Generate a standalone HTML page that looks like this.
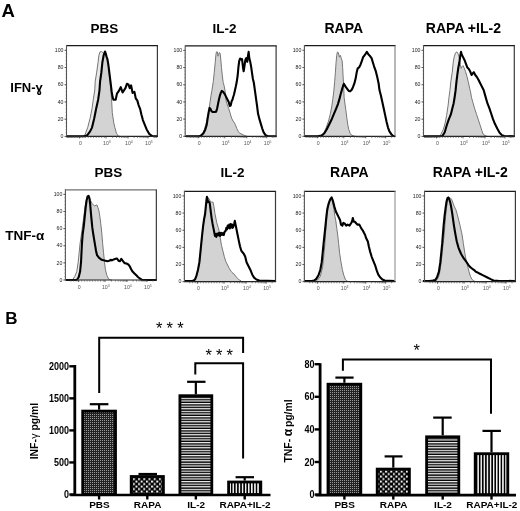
<!DOCTYPE html><html><head><meta charset="utf-8"><style>html,body{margin:0;padding:0;background:#fff;}svg{display:block;filter:blur(0.3px);}text{font-family:"Liberation Sans",sans-serif;}</style></head><body>
<svg width="520" height="511" viewBox="0 0 520 511">
<defs>
<pattern id="pd" width="2" height="2" patternUnits="userSpaceOnUse"><rect width="2" height="2" fill="#222"/><rect x="0" y="0" width="1" height="1" fill="#9a9a9a"/></pattern>
<pattern id="pc" width="5.2" height="5.0" patternUnits="userSpaceOnUse" x="0.3" y="0.6"><rect width="5.2" height="5.0" fill="#000"/><rect x="0" y="0" width="2" height="1.9" fill="#fff"/><rect x="2.6" y="2.5" width="2" height="1.9" fill="#fff"/></pattern>
<pattern id="ph" width="3" height="2.6" patternUnits="userSpaceOnUse"><rect width="3" height="2.6" fill="#000"/><rect y="0" width="3" height="1.2" fill="#f4f4f4"/></pattern>
<pattern id="pv" width="3.1" height="3" patternUnits="userSpaceOnUse"><rect width="3.1" height="3" fill="#000"/><rect x="0" width="1.5" height="3" fill="#f4f4f4"/></pattern>
</defs>
<rect width="520" height="511" fill="#fff"/>
<text x="1.5" y="17.2" font-size="18.5" font-weight="bold" text-anchor="start" >A</text>
<text x="5.3" y="323.6" font-size="17" font-weight="bold" text-anchor="start" >B</text>
<text x="104.3" y="33.2" font-size="13.5" font-weight="bold" text-anchor="middle" >PBS</text>
<text x="108.5" y="177.2" font-size="13.5" font-weight="bold" text-anchor="middle" >PBS</text>
<text x="224.6" y="33.2" font-size="13.5" font-weight="bold" text-anchor="middle" >IL-2</text>
<text x="232.4" y="177.2" font-size="13.5" font-weight="bold" text-anchor="middle" >IL-2</text>
<text x="343.8" y="33.2" font-size="14" font-weight="bold" text-anchor="middle" >RAPA</text>
<text x="349.4" y="177.2" font-size="14" font-weight="bold" text-anchor="middle" >RAPA</text>
<text x="463.4" y="33.2" font-size="14" font-weight="bold" text-anchor="middle" >RAPA +IL-2</text>
<text x="470.25" y="177.2" font-size="14" font-weight="bold" text-anchor="middle" >RAPA +IL-2</text>
<text x="10.3" y="91.9" font-size="13" font-weight="bold" text-anchor="start" >IFN-ɣ</text>
<text x="5.3" y="240" font-size="13.5" font-weight="bold" text-anchor="start" >TNF-α</text>
<clipPath id="c0"><path d="M66.50,137.40 L66.25,136.40 L84.67,136.24 L87.30,135.12 L90.11,131.36 L91.99,127.60 L94.25,118.21 L96.13,108.81 L98.19,99.42 L99.51,90.03 L100.07,81.57 L101.39,72.18 L102.32,62.79 L103.64,55.27 L104.95,51.51 L66.50,51.51 Z"/></clipPath>
<path d="M82.79,136.40 L82.79,136.24 L84.85,135.12 L87.67,127.60 L90.11,118.21 L91.99,108.81 L93.31,99.42 L94.81,90.03 L95.19,81.57 L96.69,72.18 L98.00,62.79 L98.94,55.27 L99.88,52.08 L101.39,51.51 L102.70,52.45 L103.64,53.39 L105.52,54.90 L107.40,60.53 L108.71,68.42 L109.84,79.69 L110.97,90.97 L111.72,102.24 L112.28,112.57 L113.78,122.90 L114.91,127.60 L116.41,133.24 L118.29,136.05 L120.36,136.40 L120.36,136.40 Z" fill="#d3d3d3" stroke="none"/>
<path d="M82.79,136.40 L82.79,136.24 L84.85,135.12 L87.67,127.60 L90.11,118.21 L91.99,108.81 L93.31,99.42 L94.81,90.03 L95.19,81.57 L96.69,72.18 L98.00,62.79 L98.94,55.27 L99.88,52.08 L101.39,51.51 L102.70,52.45 L103.64,53.39 L105.52,54.90 L107.40,60.53 L108.71,68.42 L109.84,79.69 L110.97,90.97 L111.72,102.24 L112.28,112.57 L113.78,122.90 L114.91,127.60 L116.41,133.24 L118.29,136.05 L120.36,136.40 L120.36,136.40 Z" fill="#e8e8e8" stroke="none" clip-path="url(#c0)"/>
<path d="M82.79,136.24 L84.85,135.12 L87.67,127.60 L90.11,118.21 L91.99,108.81 L93.31,99.42 L94.81,90.03 L95.19,81.57 L96.69,72.18 L98.00,62.79 L98.94,55.27 L99.88,52.08 L101.39,51.51 L102.70,52.45 L103.64,53.39 L105.52,54.90 L107.40,60.53 L108.71,68.42 L109.84,79.69 L110.97,90.97 L111.72,102.24 L112.28,112.57 L113.78,122.90 L114.91,127.60 L116.41,133.24 L118.29,136.05 L120.36,136.40" fill="none" stroke="#777" stroke-width="1"/>
<path d="M66.25,136.40 L84.67,136.24 L87.30,135.12 L90.11,131.36 L91.99,127.60 L94.25,118.21 L96.13,108.81 L98.19,99.42 L99.51,90.03 L100.07,81.57 L101.39,72.18 L102.32,62.79 L103.64,55.27 L104.95,51.51 L105.71,53.39 L106.46,56.21 L107.40,59.03 L108.34,64.67 L109.28,72.18 L110.22,79.69 L111.15,87.21 L111.72,91.91 L112.47,96.60 L113.41,99.80 L115.66,99.80 L116.98,93.60 L118.86,90.97 L120.74,87.21 L122.61,92.47 L125.43,88.15 L126.94,83.83 L128.44,84.39 L129.75,88.15 L131.07,85.33 L132.57,92.85 L134.45,91.91 L135.77,98.48 L137.27,100.36 L138.58,105.06 L140.09,108.81 L141.40,114.45 L142.90,120.09 L144.41,123.84 L146.66,129.48 L149.48,134.18 L152.30,136.05 L157.37,136.40" fill="none" stroke="#000" stroke-width="2.1" stroke-linejoin="round"/>
<line x1="66.5" y1="45.7" x2="158.0" y2="45.7" stroke="#1a1a1a" stroke-width="1.3"/>
<line x1="157.4" y1="45.7" x2="157.4" y2="136.4" stroke="#3a3a3a" stroke-width="1.2"/>
<line x1="66.0" y1="136.4" x2="158.0" y2="136.4" stroke="#222" stroke-width="1.2"/>
<line x1="66.5" y1="45.1" x2="66.5" y2="136.4" stroke="#555" stroke-width="1.1"/>
<line x1="64.5" y1="50.30" x2="66.5" y2="50.30" stroke="#333" stroke-width="0.8"/>
<text x="63.5" y="52.00" font-size="5.2" text-anchor="end" fill="#222">100</text>
<line x1="64.5" y1="67.52" x2="66.5" y2="67.52" stroke="#333" stroke-width="0.8"/>
<text x="63.5" y="69.22" font-size="5.2" text-anchor="end" fill="#222">80</text>
<line x1="64.5" y1="84.74" x2="66.5" y2="84.74" stroke="#333" stroke-width="0.8"/>
<text x="63.5" y="86.44" font-size="5.2" text-anchor="end" fill="#222">60</text>
<line x1="64.5" y1="101.96" x2="66.5" y2="101.96" stroke="#333" stroke-width="0.8"/>
<text x="63.5" y="103.66" font-size="5.2" text-anchor="end" fill="#222">40</text>
<line x1="64.5" y1="119.18" x2="66.5" y2="119.18" stroke="#333" stroke-width="0.8"/>
<text x="63.5" y="120.88" font-size="5.2" text-anchor="end" fill="#222">20</text>
<line x1="64.5" y1="136.40" x2="66.5" y2="136.40" stroke="#333" stroke-width="0.8"/>
<text x="63.5" y="138.10" font-size="5.2" text-anchor="end" fill="#222">0</text>
<line x1="65.5" y1="50.30" x2="66.5" y2="50.30" stroke="#666" stroke-width="0.5"/>
<line x1="65.5" y1="53.74" x2="66.5" y2="53.74" stroke="#666" stroke-width="0.5"/>
<line x1="65.5" y1="57.19" x2="66.5" y2="57.19" stroke="#666" stroke-width="0.5"/>
<line x1="65.5" y1="60.63" x2="66.5" y2="60.63" stroke="#666" stroke-width="0.5"/>
<line x1="65.5" y1="64.08" x2="66.5" y2="64.08" stroke="#666" stroke-width="0.5"/>
<line x1="65.5" y1="67.52" x2="66.5" y2="67.52" stroke="#666" stroke-width="0.5"/>
<line x1="65.5" y1="70.96" x2="66.5" y2="70.96" stroke="#666" stroke-width="0.5"/>
<line x1="65.5" y1="74.41" x2="66.5" y2="74.41" stroke="#666" stroke-width="0.5"/>
<line x1="65.5" y1="77.85" x2="66.5" y2="77.85" stroke="#666" stroke-width="0.5"/>
<line x1="65.5" y1="81.30" x2="66.5" y2="81.30" stroke="#666" stroke-width="0.5"/>
<line x1="65.5" y1="84.74" x2="66.5" y2="84.74" stroke="#666" stroke-width="0.5"/>
<line x1="65.5" y1="88.18" x2="66.5" y2="88.18" stroke="#666" stroke-width="0.5"/>
<line x1="65.5" y1="91.63" x2="66.5" y2="91.63" stroke="#666" stroke-width="0.5"/>
<line x1="65.5" y1="95.07" x2="66.5" y2="95.07" stroke="#666" stroke-width="0.5"/>
<line x1="65.5" y1="98.52" x2="66.5" y2="98.52" stroke="#666" stroke-width="0.5"/>
<line x1="65.5" y1="101.96" x2="66.5" y2="101.96" stroke="#666" stroke-width="0.5"/>
<line x1="65.5" y1="105.40" x2="66.5" y2="105.40" stroke="#666" stroke-width="0.5"/>
<line x1="65.5" y1="108.85" x2="66.5" y2="108.85" stroke="#666" stroke-width="0.5"/>
<line x1="65.5" y1="112.29" x2="66.5" y2="112.29" stroke="#666" stroke-width="0.5"/>
<line x1="65.5" y1="115.74" x2="66.5" y2="115.74" stroke="#666" stroke-width="0.5"/>
<line x1="65.5" y1="119.18" x2="66.5" y2="119.18" stroke="#666" stroke-width="0.5"/>
<line x1="65.5" y1="122.62" x2="66.5" y2="122.62" stroke="#666" stroke-width="0.5"/>
<line x1="65.5" y1="126.07" x2="66.5" y2="126.07" stroke="#666" stroke-width="0.5"/>
<line x1="65.5" y1="129.51" x2="66.5" y2="129.51" stroke="#666" stroke-width="0.5"/>
<line x1="65.5" y1="132.96" x2="66.5" y2="132.96" stroke="#666" stroke-width="0.5"/>
<line x1="71.95" y1="136.4" x2="71.95" y2="138.0" stroke="#555" stroke-width="0.7"/>
<line x1="74.65" y1="136.4" x2="74.65" y2="138.0" stroke="#555" stroke-width="0.7"/>
<line x1="77.35" y1="136.4" x2="77.35" y2="138.0" stroke="#555" stroke-width="0.7"/>
<line x1="80.05" y1="136.4" x2="80.05" y2="138.0" stroke="#555" stroke-width="0.7"/>
<line x1="82.75" y1="136.4" x2="82.75" y2="138.0" stroke="#555" stroke-width="0.7"/>
<line x1="85.45" y1="136.4" x2="85.45" y2="138.0" stroke="#555" stroke-width="0.7"/>
<line x1="88.15" y1="136.4" x2="88.15" y2="138.0" stroke="#555" stroke-width="0.7"/>
<line x1="90.85" y1="136.4" x2="90.85" y2="138.0" stroke="#555" stroke-width="0.7"/>
<line x1="93.55" y1="136.4" x2="93.55" y2="138.0" stroke="#555" stroke-width="0.7"/>
<line x1="96.25" y1="136.4" x2="96.25" y2="138.0" stroke="#555" stroke-width="0.7"/>
<line x1="98.95" y1="136.4" x2="98.95" y2="138.0" stroke="#555" stroke-width="0.7"/>
<line x1="101.65" y1="136.4" x2="101.65" y2="138.0" stroke="#555" stroke-width="0.7"/>
<line x1="104.35" y1="136.4" x2="104.35" y2="138.0" stroke="#555" stroke-width="0.7"/>
<line x1="112.66" y1="136.4" x2="112.66" y2="138.0" stroke="#555" stroke-width="0.7"/>
<line x1="116.54" y1="136.4" x2="116.54" y2="138.0" stroke="#555" stroke-width="0.7"/>
<line x1="119.29" y1="136.4" x2="119.29" y2="138.0" stroke="#555" stroke-width="0.7"/>
<line x1="121.42" y1="136.4" x2="121.42" y2="138.0" stroke="#555" stroke-width="0.7"/>
<line x1="123.16" y1="136.4" x2="123.16" y2="138.0" stroke="#555" stroke-width="0.7"/>
<line x1="124.63" y1="136.4" x2="124.63" y2="138.0" stroke="#555" stroke-width="0.7"/>
<line x1="125.91" y1="136.4" x2="125.91" y2="138.0" stroke="#555" stroke-width="0.7"/>
<line x1="127.03" y1="136.4" x2="127.03" y2="138.0" stroke="#555" stroke-width="0.7"/>
<line x1="134.06" y1="136.4" x2="134.06" y2="138.0" stroke="#555" stroke-width="0.7"/>
<line x1="137.58" y1="136.4" x2="137.58" y2="138.0" stroke="#555" stroke-width="0.7"/>
<line x1="140.08" y1="136.4" x2="140.08" y2="138.0" stroke="#555" stroke-width="0.7"/>
<line x1="142.02" y1="136.4" x2="142.02" y2="138.0" stroke="#555" stroke-width="0.7"/>
<line x1="143.60" y1="136.4" x2="143.60" y2="138.0" stroke="#555" stroke-width="0.7"/>
<line x1="144.94" y1="136.4" x2="144.94" y2="138.0" stroke="#555" stroke-width="0.7"/>
<line x1="146.10" y1="136.4" x2="146.10" y2="138.0" stroke="#555" stroke-width="0.7"/>
<line x1="147.12" y1="136.4" x2="147.12" y2="138.0" stroke="#555" stroke-width="0.7"/>
<line x1="154.06" y1="136.4" x2="154.06" y2="138.0" stroke="#555" stroke-width="0.7"/>
<line x1="79.50" y1="136.4" x2="79.50" y2="138.4" stroke="#333" stroke-width="0.8"/>
<text x="80.40" y="145.00" font-size="5.2" text-anchor="middle" fill="#555">0</text>
<line x1="106.04" y1="136.4" x2="106.04" y2="138.4" stroke="#333" stroke-width="0.8"/>
<text x="106.94" y="145.00" font-size="5.2" text-anchor="middle" fill="#555">10<tspan font-size='3.5' dy='-2'>3</tspan></text>
<line x1="128.04" y1="136.4" x2="128.04" y2="138.4" stroke="#333" stroke-width="0.8"/>
<text x="128.94" y="145.00" font-size="5.2" text-anchor="middle" fill="#555">10<tspan font-size='3.5' dy='-2'>4</tspan></text>
<line x1="148.04" y1="136.4" x2="148.04" y2="138.4" stroke="#333" stroke-width="0.8"/>
<text x="148.94" y="145.00" font-size="5.2" text-anchor="middle" fill="#555">10<tspan font-size='3.5' dy='-2'>5</tspan></text>
<clipPath id="c1"><path d="M185.20,137.30 L185.88,136.30 L199.03,136.24 L200.63,135.87 L203.44,133.24 L205.32,129.48 L206.73,124.78 L207.67,118.21 L208.61,112.57 L209.55,107.87 L185.20,107.87 Z"/></clipPath>
<path d="M200.53,136.30 L200.53,136.24 L202.50,134.18 L204.38,129.48 L206.26,122.90 L207.67,116.33 L209.08,108.81 L210.02,102.24 L210.96,95.66 L211.90,90.59 L213.31,81.57 L214.25,72.18 L215.19,62.79 L215.84,55.27 L216.41,51.89 L217.35,51.89 L218.00,56.21 L218.66,54.33 L219.41,52.45 L220.16,53.39 L220.82,59.97 L221.48,67.48 L222.23,75.00 L223.17,82.51 L224.11,85.71 L225.05,90.97 L225.52,95.66 L225.99,100.36 L227.40,105.06 L228.81,108.81 L230.22,113.51 L231.62,118.21 L233.03,121.03 L234.44,122.90 L235.38,124.78 L236.79,128.54 L238.20,131.36 L239.61,133.24 L242.05,134.18 L244.40,135.49 L246.75,136.24 L246.75,136.30 Z" fill="#d3d3d3" stroke="none"/>
<path d="M200.53,136.24 L202.50,134.18 L204.38,129.48 L206.26,122.90 L207.67,116.33 L209.08,108.81 L210.02,102.24 L210.96,95.66 L211.90,90.59 L213.31,81.57 L214.25,72.18 L215.19,62.79 L215.84,55.27 L216.41,51.89 L217.35,51.89 L218.00,56.21 L218.66,54.33 L219.41,52.45 L220.16,53.39 L220.82,59.97 L221.48,67.48 L222.23,75.00 L223.17,82.51 L224.11,85.71 L225.05,90.97 L225.52,95.66 L225.99,100.36 L227.40,105.06 L228.81,108.81 L230.22,113.51 L231.62,118.21 L233.03,121.03 L234.44,122.90 L235.38,124.78 L236.79,128.54 L238.20,131.36 L239.61,133.24 L242.05,134.18 L244.40,135.49 L246.75,136.24" fill="none" stroke="#777" stroke-width="1"/>
<path d="M185.88,136.30 L199.03,136.24 L200.63,135.87 L203.44,133.24 L205.32,129.48 L206.73,124.78 L207.67,118.21 L208.61,112.57 L209.55,107.87 L210.49,108.81 L211.43,111.07 L212.84,112.01 L214.72,112.01 L216.13,111.63 L217.06,108.81 L218.00,104.12 L218.94,99.42 L219.88,95.66 L220.82,92.85 L221.76,90.97 L223.17,91.91 L224.58,93.78 L225.99,96.60 L227.40,99.42 L228.81,102.24 L229.75,106.00 L230.68,105.43 L231.62,101.30 L232.56,99.42 L233.03,97.54 L233.97,94.72 L235.01,90.03 L235.85,86.27 L236.79,81.57 L237.73,75.00 L238.39,67.48 L239.23,60.91 L240.17,58.47 L241.11,59.41 L242.05,59.03 L242.99,67.48 L243.65,71.24 L244.40,66.54 L245.34,59.97 L246.28,58.09 L247.22,61.85 L247.97,56.21 L248.63,51.89 L249.28,58.09 L250.04,60.91 L250.97,65.60 L251.91,72.18 L252.85,78.76 L253.79,82.51 L254.73,89.09 L256.14,99.42 L257.08,106.00 L258.02,113.51 L259.43,119.15 L260.84,123.84 L262.25,128.54 L263.66,132.30 L265.53,135.12 L267.41,136.05 L276.43,136.24" fill="none" stroke="#000" stroke-width="2.1" stroke-linejoin="round"/>
<line x1="185.2" y1="45.8" x2="276.70000000000005" y2="45.8" stroke="#1a1a1a" stroke-width="1.3"/>
<line x1="276.1" y1="45.8" x2="276.1" y2="136.3" stroke="#3a3a3a" stroke-width="1.2"/>
<line x1="184.7" y1="136.3" x2="276.70000000000005" y2="136.3" stroke="#222" stroke-width="1.2"/>
<line x1="185.2" y1="45.199999999999996" x2="185.2" y2="136.3" stroke="#555" stroke-width="1.1"/>
<line x1="183.2" y1="50.40" x2="185.2" y2="50.40" stroke="#333" stroke-width="0.8"/>
<text x="182.2" y="52.10" font-size="5.2" text-anchor="end" fill="#222">100</text>
<line x1="183.2" y1="67.58" x2="185.2" y2="67.58" stroke="#333" stroke-width="0.8"/>
<text x="182.2" y="69.28" font-size="5.2" text-anchor="end" fill="#222">80</text>
<line x1="183.2" y1="84.76" x2="185.2" y2="84.76" stroke="#333" stroke-width="0.8"/>
<text x="182.2" y="86.46" font-size="5.2" text-anchor="end" fill="#222">60</text>
<line x1="183.2" y1="101.94" x2="185.2" y2="101.94" stroke="#333" stroke-width="0.8"/>
<text x="182.2" y="103.64" font-size="5.2" text-anchor="end" fill="#222">40</text>
<line x1="183.2" y1="119.12" x2="185.2" y2="119.12" stroke="#333" stroke-width="0.8"/>
<text x="182.2" y="120.82" font-size="5.2" text-anchor="end" fill="#222">20</text>
<line x1="183.2" y1="136.30" x2="185.2" y2="136.30" stroke="#333" stroke-width="0.8"/>
<text x="182.2" y="138.00" font-size="5.2" text-anchor="end" fill="#222">0</text>
<line x1="184.2" y1="50.40" x2="185.2" y2="50.40" stroke="#666" stroke-width="0.5"/>
<line x1="184.2" y1="53.84" x2="185.2" y2="53.84" stroke="#666" stroke-width="0.5"/>
<line x1="184.2" y1="57.27" x2="185.2" y2="57.27" stroke="#666" stroke-width="0.5"/>
<line x1="184.2" y1="60.71" x2="185.2" y2="60.71" stroke="#666" stroke-width="0.5"/>
<line x1="184.2" y1="64.14" x2="185.2" y2="64.14" stroke="#666" stroke-width="0.5"/>
<line x1="184.2" y1="67.58" x2="185.2" y2="67.58" stroke="#666" stroke-width="0.5"/>
<line x1="184.2" y1="71.02" x2="185.2" y2="71.02" stroke="#666" stroke-width="0.5"/>
<line x1="184.2" y1="74.45" x2="185.2" y2="74.45" stroke="#666" stroke-width="0.5"/>
<line x1="184.2" y1="77.89" x2="185.2" y2="77.89" stroke="#666" stroke-width="0.5"/>
<line x1="184.2" y1="81.32" x2="185.2" y2="81.32" stroke="#666" stroke-width="0.5"/>
<line x1="184.2" y1="84.76" x2="185.2" y2="84.76" stroke="#666" stroke-width="0.5"/>
<line x1="184.2" y1="88.20" x2="185.2" y2="88.20" stroke="#666" stroke-width="0.5"/>
<line x1="184.2" y1="91.63" x2="185.2" y2="91.63" stroke="#666" stroke-width="0.5"/>
<line x1="184.2" y1="95.07" x2="185.2" y2="95.07" stroke="#666" stroke-width="0.5"/>
<line x1="184.2" y1="98.50" x2="185.2" y2="98.50" stroke="#666" stroke-width="0.5"/>
<line x1="184.2" y1="101.94" x2="185.2" y2="101.94" stroke="#666" stroke-width="0.5"/>
<line x1="184.2" y1="105.38" x2="185.2" y2="105.38" stroke="#666" stroke-width="0.5"/>
<line x1="184.2" y1="108.81" x2="185.2" y2="108.81" stroke="#666" stroke-width="0.5"/>
<line x1="184.2" y1="112.25" x2="185.2" y2="112.25" stroke="#666" stroke-width="0.5"/>
<line x1="184.2" y1="115.68" x2="185.2" y2="115.68" stroke="#666" stroke-width="0.5"/>
<line x1="184.2" y1="119.12" x2="185.2" y2="119.12" stroke="#666" stroke-width="0.5"/>
<line x1="184.2" y1="122.56" x2="185.2" y2="122.56" stroke="#666" stroke-width="0.5"/>
<line x1="184.2" y1="125.99" x2="185.2" y2="125.99" stroke="#666" stroke-width="0.5"/>
<line x1="184.2" y1="129.43" x2="185.2" y2="129.43" stroke="#666" stroke-width="0.5"/>
<line x1="184.2" y1="132.86" x2="185.2" y2="132.86" stroke="#666" stroke-width="0.5"/>
<line x1="190.65" y1="136.3" x2="190.65" y2="137.9" stroke="#555" stroke-width="0.7"/>
<line x1="193.35" y1="136.3" x2="193.35" y2="137.9" stroke="#555" stroke-width="0.7"/>
<line x1="196.05" y1="136.3" x2="196.05" y2="137.9" stroke="#555" stroke-width="0.7"/>
<line x1="198.75" y1="136.3" x2="198.75" y2="137.9" stroke="#555" stroke-width="0.7"/>
<line x1="201.45" y1="136.3" x2="201.45" y2="137.9" stroke="#555" stroke-width="0.7"/>
<line x1="204.15" y1="136.3" x2="204.15" y2="137.9" stroke="#555" stroke-width="0.7"/>
<line x1="206.85" y1="136.3" x2="206.85" y2="137.9" stroke="#555" stroke-width="0.7"/>
<line x1="209.55" y1="136.3" x2="209.55" y2="137.9" stroke="#555" stroke-width="0.7"/>
<line x1="212.25" y1="136.3" x2="212.25" y2="137.9" stroke="#555" stroke-width="0.7"/>
<line x1="214.95" y1="136.3" x2="214.95" y2="137.9" stroke="#555" stroke-width="0.7"/>
<line x1="217.65" y1="136.3" x2="217.65" y2="137.9" stroke="#555" stroke-width="0.7"/>
<line x1="220.35" y1="136.3" x2="220.35" y2="137.9" stroke="#555" stroke-width="0.7"/>
<line x1="223.05" y1="136.3" x2="223.05" y2="137.9" stroke="#555" stroke-width="0.7"/>
<line x1="231.36" y1="136.3" x2="231.36" y2="137.9" stroke="#555" stroke-width="0.7"/>
<line x1="235.24" y1="136.3" x2="235.24" y2="137.9" stroke="#555" stroke-width="0.7"/>
<line x1="237.99" y1="136.3" x2="237.99" y2="137.9" stroke="#555" stroke-width="0.7"/>
<line x1="240.12" y1="136.3" x2="240.12" y2="137.9" stroke="#555" stroke-width="0.7"/>
<line x1="241.86" y1="136.3" x2="241.86" y2="137.9" stroke="#555" stroke-width="0.7"/>
<line x1="243.33" y1="136.3" x2="243.33" y2="137.9" stroke="#555" stroke-width="0.7"/>
<line x1="244.61" y1="136.3" x2="244.61" y2="137.9" stroke="#555" stroke-width="0.7"/>
<line x1="245.73" y1="136.3" x2="245.73" y2="137.9" stroke="#555" stroke-width="0.7"/>
<line x1="252.76" y1="136.3" x2="252.76" y2="137.9" stroke="#555" stroke-width="0.7"/>
<line x1="256.28" y1="136.3" x2="256.28" y2="137.9" stroke="#555" stroke-width="0.7"/>
<line x1="258.78" y1="136.3" x2="258.78" y2="137.9" stroke="#555" stroke-width="0.7"/>
<line x1="260.72" y1="136.3" x2="260.72" y2="137.9" stroke="#555" stroke-width="0.7"/>
<line x1="262.30" y1="136.3" x2="262.30" y2="137.9" stroke="#555" stroke-width="0.7"/>
<line x1="263.64" y1="136.3" x2="263.64" y2="137.9" stroke="#555" stroke-width="0.7"/>
<line x1="264.80" y1="136.3" x2="264.80" y2="137.9" stroke="#555" stroke-width="0.7"/>
<line x1="265.82" y1="136.3" x2="265.82" y2="137.9" stroke="#555" stroke-width="0.7"/>
<line x1="272.76" y1="136.3" x2="272.76" y2="137.9" stroke="#555" stroke-width="0.7"/>
<line x1="198.20" y1="136.3" x2="198.20" y2="138.3" stroke="#333" stroke-width="0.8"/>
<text x="199.10" y="144.90" font-size="5.2" text-anchor="middle" fill="#555">0</text>
<line x1="224.74" y1="136.3" x2="224.74" y2="138.3" stroke="#333" stroke-width="0.8"/>
<text x="225.64" y="144.90" font-size="5.2" text-anchor="middle" fill="#555">10<tspan font-size='3.5' dy='-2'>3</tspan></text>
<line x1="246.74" y1="136.3" x2="246.74" y2="138.3" stroke="#333" stroke-width="0.8"/>
<text x="247.64" y="144.90" font-size="5.2" text-anchor="middle" fill="#555">10<tspan font-size='3.5' dy='-2'>4</tspan></text>
<line x1="266.74" y1="136.3" x2="266.74" y2="138.3" stroke="#333" stroke-width="0.8"/>
<text x="267.64" y="144.90" font-size="5.2" text-anchor="middle" fill="#555">10<tspan font-size='3.5' dy='-2'>5</tspan></text>
<clipPath id="c2"><path d="M304.40,137.30 L304.88,136.30 L317.75,136.30 L321.50,135.59 L324.32,133.24 L326.67,129.48 L329.02,124.78 L331.37,120.09 L333.72,114.45 L336.06,108.81 L337.94,104.12 L339.35,99.42 L340.76,93.78 L341.32,91.91 L342.17,88.71 L343.11,85.71 L343.86,83.83 L304.40,83.83 Z"/></clipPath>
<path d="M321.41,136.30 L321.41,136.30 L323.38,134.18 L326.20,127.60 L328.55,121.03 L330.43,113.51 L331.84,106.00 L332.78,99.42 L333.72,91.91 L334.66,81.57 L335.41,72.18 L336.06,62.79 L336.72,55.27 L337.47,51.89 L338.41,52.83 L339.35,57.15 L340.29,55.27 L341.23,58.09 L342.17,60.91 L342.64,67.48 L343.11,76.88 L343.58,84.39 L343.86,90.97 L344.14,97.54 L344.99,104.12 L345.93,110.69 L346.87,118.21 L347.81,124.78 L348.75,129.48 L350.15,133.24 L351.56,135.12 L353.72,136.05 L355.60,136.30 L355.60,136.30 Z" fill="#d3d3d3" stroke="none"/>
<path d="M321.41,136.30 L323.38,134.18 L326.20,127.60 L328.55,121.03 L330.43,113.51 L331.84,106.00 L332.78,99.42 L333.72,91.91 L334.66,81.57 L335.41,72.18 L336.06,62.79 L336.72,55.27 L337.47,51.89 L338.41,52.83 L339.35,57.15 L340.29,55.27 L341.23,58.09 L342.17,60.91 L342.64,67.48 L343.11,76.88 L343.58,84.39 L343.86,90.97 L344.14,97.54 L344.99,104.12 L345.93,110.69 L346.87,118.21 L347.81,124.78 L348.75,129.48 L350.15,133.24 L351.56,135.12 L353.72,136.05 L355.60,136.30" fill="none" stroke="#777" stroke-width="1"/>
<path d="M304.88,136.30 L317.75,136.30 L321.50,135.59 L324.32,133.24 L326.67,129.48 L329.02,124.78 L331.37,120.09 L333.72,114.45 L336.06,108.81 L337.94,104.12 L339.35,99.42 L340.76,93.78 L341.32,91.91 L342.17,88.71 L343.11,85.71 L343.86,83.83 L344.80,85.33 L345.93,87.21 L347.34,89.09 L348.75,90.97 L350.15,91.34 L351.56,90.03 L352.97,87.21 L354.38,83.45 L355.79,77.82 L356.73,72.18 L357.67,68.42 L359.08,67.48 L360.49,64.67 L361.71,61.28 L363.12,57.15 L364.53,55.27 L365.94,53.39 L366.87,51.89 L368.28,54.33 L369.69,55.65 L371.57,58.09 L372.98,62.79 L374.39,67.48 L375.80,71.24 L377.21,76.88 L378.62,83.45 L379.46,90.03 L380.96,95.66 L382.37,102.24 L383.78,108.81 L385.19,115.39 L386.60,121.96 L388.01,127.60 L389.42,131.36 L391.30,134.18 L393.18,136.05 L395.05,136.30" fill="none" stroke="#000" stroke-width="2.1" stroke-linejoin="round"/>
<line x1="304.4" y1="45.7" x2="395.6" y2="45.7" stroke="#1a1a1a" stroke-width="1.3"/>
<line x1="395.0" y1="45.7" x2="395.0" y2="136.3" stroke="#888" stroke-width="1.2"/>
<line x1="303.9" y1="136.3" x2="395.6" y2="136.3" stroke="#222" stroke-width="1.2"/>
<line x1="304.4" y1="45.1" x2="304.4" y2="136.3" stroke="#555" stroke-width="1.1"/>
<line x1="302.4" y1="50.30" x2="304.4" y2="50.30" stroke="#333" stroke-width="0.8"/>
<text x="301.4" y="52.00" font-size="5.2" text-anchor="end" fill="#222">100</text>
<line x1="302.4" y1="67.50" x2="304.4" y2="67.50" stroke="#333" stroke-width="0.8"/>
<text x="301.4" y="69.20" font-size="5.2" text-anchor="end" fill="#222">80</text>
<line x1="302.4" y1="84.70" x2="304.4" y2="84.70" stroke="#333" stroke-width="0.8"/>
<text x="301.4" y="86.40" font-size="5.2" text-anchor="end" fill="#222">60</text>
<line x1="302.4" y1="101.90" x2="304.4" y2="101.90" stroke="#333" stroke-width="0.8"/>
<text x="301.4" y="103.60" font-size="5.2" text-anchor="end" fill="#222">40</text>
<line x1="302.4" y1="119.10" x2="304.4" y2="119.10" stroke="#333" stroke-width="0.8"/>
<text x="301.4" y="120.80" font-size="5.2" text-anchor="end" fill="#222">20</text>
<line x1="302.4" y1="136.30" x2="304.4" y2="136.30" stroke="#333" stroke-width="0.8"/>
<text x="301.4" y="138.00" font-size="5.2" text-anchor="end" fill="#222">0</text>
<line x1="303.4" y1="50.30" x2="304.4" y2="50.30" stroke="#666" stroke-width="0.5"/>
<line x1="303.4" y1="53.74" x2="304.4" y2="53.74" stroke="#666" stroke-width="0.5"/>
<line x1="303.4" y1="57.18" x2="304.4" y2="57.18" stroke="#666" stroke-width="0.5"/>
<line x1="303.4" y1="60.62" x2="304.4" y2="60.62" stroke="#666" stroke-width="0.5"/>
<line x1="303.4" y1="64.06" x2="304.4" y2="64.06" stroke="#666" stroke-width="0.5"/>
<line x1="303.4" y1="67.50" x2="304.4" y2="67.50" stroke="#666" stroke-width="0.5"/>
<line x1="303.4" y1="70.94" x2="304.4" y2="70.94" stroke="#666" stroke-width="0.5"/>
<line x1="303.4" y1="74.38" x2="304.4" y2="74.38" stroke="#666" stroke-width="0.5"/>
<line x1="303.4" y1="77.82" x2="304.4" y2="77.82" stroke="#666" stroke-width="0.5"/>
<line x1="303.4" y1="81.26" x2="304.4" y2="81.26" stroke="#666" stroke-width="0.5"/>
<line x1="303.4" y1="84.70" x2="304.4" y2="84.70" stroke="#666" stroke-width="0.5"/>
<line x1="303.4" y1="88.14" x2="304.4" y2="88.14" stroke="#666" stroke-width="0.5"/>
<line x1="303.4" y1="91.58" x2="304.4" y2="91.58" stroke="#666" stroke-width="0.5"/>
<line x1="303.4" y1="95.02" x2="304.4" y2="95.02" stroke="#666" stroke-width="0.5"/>
<line x1="303.4" y1="98.46" x2="304.4" y2="98.46" stroke="#666" stroke-width="0.5"/>
<line x1="303.4" y1="101.90" x2="304.4" y2="101.90" stroke="#666" stroke-width="0.5"/>
<line x1="303.4" y1="105.34" x2="304.4" y2="105.34" stroke="#666" stroke-width="0.5"/>
<line x1="303.4" y1="108.78" x2="304.4" y2="108.78" stroke="#666" stroke-width="0.5"/>
<line x1="303.4" y1="112.22" x2="304.4" y2="112.22" stroke="#666" stroke-width="0.5"/>
<line x1="303.4" y1="115.66" x2="304.4" y2="115.66" stroke="#666" stroke-width="0.5"/>
<line x1="303.4" y1="119.10" x2="304.4" y2="119.10" stroke="#666" stroke-width="0.5"/>
<line x1="303.4" y1="122.54" x2="304.4" y2="122.54" stroke="#666" stroke-width="0.5"/>
<line x1="303.4" y1="125.98" x2="304.4" y2="125.98" stroke="#666" stroke-width="0.5"/>
<line x1="303.4" y1="129.42" x2="304.4" y2="129.42" stroke="#666" stroke-width="0.5"/>
<line x1="303.4" y1="132.86" x2="304.4" y2="132.86" stroke="#666" stroke-width="0.5"/>
<line x1="309.84" y1="136.3" x2="309.84" y2="137.9" stroke="#555" stroke-width="0.7"/>
<line x1="312.54" y1="136.3" x2="312.54" y2="137.9" stroke="#555" stroke-width="0.7"/>
<line x1="315.24" y1="136.3" x2="315.24" y2="137.9" stroke="#555" stroke-width="0.7"/>
<line x1="317.94" y1="136.3" x2="317.94" y2="137.9" stroke="#555" stroke-width="0.7"/>
<line x1="320.64" y1="136.3" x2="320.64" y2="137.9" stroke="#555" stroke-width="0.7"/>
<line x1="323.34" y1="136.3" x2="323.34" y2="137.9" stroke="#555" stroke-width="0.7"/>
<line x1="326.04" y1="136.3" x2="326.04" y2="137.9" stroke="#555" stroke-width="0.7"/>
<line x1="328.74" y1="136.3" x2="328.74" y2="137.9" stroke="#555" stroke-width="0.7"/>
<line x1="331.44" y1="136.3" x2="331.44" y2="137.9" stroke="#555" stroke-width="0.7"/>
<line x1="334.14" y1="136.3" x2="334.14" y2="137.9" stroke="#555" stroke-width="0.7"/>
<line x1="336.84" y1="136.3" x2="336.84" y2="137.9" stroke="#555" stroke-width="0.7"/>
<line x1="339.54" y1="136.3" x2="339.54" y2="137.9" stroke="#555" stroke-width="0.7"/>
<line x1="342.24" y1="136.3" x2="342.24" y2="137.9" stroke="#555" stroke-width="0.7"/>
<line x1="350.41" y1="136.3" x2="350.41" y2="137.9" stroke="#555" stroke-width="0.7"/>
<line x1="354.27" y1="136.3" x2="354.27" y2="137.9" stroke="#555" stroke-width="0.7"/>
<line x1="357.01" y1="136.3" x2="357.01" y2="137.9" stroke="#555" stroke-width="0.7"/>
<line x1="359.14" y1="136.3" x2="359.14" y2="137.9" stroke="#555" stroke-width="0.7"/>
<line x1="360.87" y1="136.3" x2="360.87" y2="137.9" stroke="#555" stroke-width="0.7"/>
<line x1="362.34" y1="136.3" x2="362.34" y2="137.9" stroke="#555" stroke-width="0.7"/>
<line x1="363.61" y1="136.3" x2="363.61" y2="137.9" stroke="#555" stroke-width="0.7"/>
<line x1="364.73" y1="136.3" x2="364.73" y2="137.9" stroke="#555" stroke-width="0.7"/>
<line x1="371.74" y1="136.3" x2="371.74" y2="137.9" stroke="#555" stroke-width="0.7"/>
<line x1="375.25" y1="136.3" x2="375.25" y2="137.9" stroke="#555" stroke-width="0.7"/>
<line x1="377.74" y1="136.3" x2="377.74" y2="137.9" stroke="#555" stroke-width="0.7"/>
<line x1="379.67" y1="136.3" x2="379.67" y2="137.9" stroke="#555" stroke-width="0.7"/>
<line x1="381.25" y1="136.3" x2="381.25" y2="137.9" stroke="#555" stroke-width="0.7"/>
<line x1="382.58" y1="136.3" x2="382.58" y2="137.9" stroke="#555" stroke-width="0.7"/>
<line x1="383.74" y1="136.3" x2="383.74" y2="137.9" stroke="#555" stroke-width="0.7"/>
<line x1="384.76" y1="136.3" x2="384.76" y2="137.9" stroke="#555" stroke-width="0.7"/>
<line x1="391.67" y1="136.3" x2="391.67" y2="137.9" stroke="#555" stroke-width="0.7"/>
<line x1="317.36" y1="136.3" x2="317.36" y2="138.3" stroke="#333" stroke-width="0.8"/>
<text x="318.26" y="144.90" font-size="5.2" text-anchor="middle" fill="#555">0</text>
<line x1="343.81" y1="136.3" x2="343.81" y2="138.3" stroke="#333" stroke-width="0.8"/>
<text x="344.71" y="144.90" font-size="5.2" text-anchor="middle" fill="#555">10<tspan font-size='3.5' dy='-2'>3</tspan></text>
<line x1="365.74" y1="136.3" x2="365.74" y2="138.3" stroke="#333" stroke-width="0.8"/>
<text x="366.64" y="144.90" font-size="5.2" text-anchor="middle" fill="#555">10<tspan font-size='3.5' dy='-2'>4</tspan></text>
<line x1="385.67" y1="136.3" x2="385.67" y2="138.3" stroke="#333" stroke-width="0.8"/>
<text x="386.57" y="144.90" font-size="5.2" text-anchor="middle" fill="#555">10<tspan font-size='3.5' dy='-2'>5</tspan></text>
<clipPath id="c3"><path d="M423.50,137.40 L423.88,136.40 L438.91,136.24 L442.38,136.05 L444.73,132.30 L446.61,125.72 L448.49,120.09 L450.84,114.45 L452.25,108.81 L453.66,103.18 L454.59,97.54 L455.53,90.97 L456.47,81.57 L457.41,74.06 L458.35,67.48 L459.29,62.79 L460.23,56.21 L460.98,51.89 L423.50,51.89 Z"/></clipPath>
<path d="M439.85,136.40 L439.85,136.40 L440.97,134.18 L443.32,129.48 L445.20,122.90 L446.61,115.39 L448.02,106.00 L448.96,97.54 L449.90,90.59 L450.84,81.57 L452.25,72.18 L453.19,62.79 L454.13,57.15 L455.53,52.83 L456.94,51.89 L457.88,53.39 L458.82,56.21 L459.57,59.97 L460.32,64.67 L461.17,68.42 L462.11,66.54 L463.05,65.60 L463.99,67.48 L465.40,71.24 L466.81,75.94 L468.22,81.57 L469.62,88.15 L470.56,91.91 L471.50,97.54 L472.82,102.24 L474.70,108.81 L476.58,114.45 L478.45,120.09 L480.33,125.72 L481.74,130.42 L483.15,134.18 L485.03,135.49 L486.81,136.24 L486.81,136.40 Z" fill="#d3d3d3" stroke="none"/>
<path d="M439.85,136.40 L439.85,136.40 L440.97,134.18 L443.32,129.48 L445.20,122.90 L446.61,115.39 L448.02,106.00 L448.96,97.54 L449.90,90.59 L450.84,81.57 L452.25,72.18 L453.19,62.79 L454.13,57.15 L455.53,52.83 L456.94,51.89 L457.88,53.39 L458.82,56.21 L459.57,59.97 L460.32,64.67 L461.17,68.42 L462.11,66.54 L463.05,65.60 L463.99,67.48 L465.40,71.24 L466.81,75.94 L468.22,81.57 L469.62,88.15 L470.56,91.91 L471.50,97.54 L472.82,102.24 L474.70,108.81 L476.58,114.45 L478.45,120.09 L480.33,125.72 L481.74,130.42 L483.15,134.18 L485.03,135.49 L486.81,136.24 L486.81,136.40 Z" fill="#e8e8e8" stroke="none" clip-path="url(#c3)"/>
<path d="M439.85,136.40 L440.97,134.18 L443.32,129.48 L445.20,122.90 L446.61,115.39 L448.02,106.00 L448.96,97.54 L449.90,90.59 L450.84,81.57 L452.25,72.18 L453.19,62.79 L454.13,57.15 L455.53,52.83 L456.94,51.89 L457.88,53.39 L458.82,56.21 L459.57,59.97 L460.32,64.67 L461.17,68.42 L462.11,66.54 L463.05,65.60 L463.99,67.48 L465.40,71.24 L466.81,75.94 L468.22,81.57 L469.62,88.15 L470.56,91.91 L471.50,97.54 L472.82,102.24 L474.70,108.81 L476.58,114.45 L478.45,120.09 L480.33,125.72 L481.74,130.42 L483.15,134.18 L485.03,135.49 L486.81,136.24" fill="none" stroke="#777" stroke-width="1"/>
<path d="M423.88,136.40 L438.91,136.24 L442.38,136.05 L444.73,132.30 L446.61,125.72 L448.49,120.09 L450.84,114.45 L452.25,108.81 L453.66,103.18 L454.59,97.54 L455.53,90.97 L456.47,81.57 L457.41,74.06 L458.35,67.48 L459.29,62.79 L460.23,56.21 L460.98,51.89 L461.64,54.33 L463.05,57.15 L464.46,59.97 L465.87,63.73 L467.28,67.48 L468.68,68.80 L470.09,71.24 L471.50,75.00 L472.91,73.12 L473.85,72.18 L475.26,75.00 L477.14,77.44 L478.45,79.69 L480.33,83.45 L482.21,87.21 L483.62,90.03 L485.50,96.60 L487.38,103.18 L489.26,107.87 L491.14,113.51 L493.01,119.15 L494.89,123.84 L497.24,128.54 L499.59,132.67 L501.94,135.12 L504.29,136.05 L514.43,136.24" fill="none" stroke="#000" stroke-width="2.1" stroke-linejoin="round"/>
<line x1="423.5" y1="45.7" x2="514.9" y2="45.7" stroke="#1a1a1a" stroke-width="1.3"/>
<line x1="514.3" y1="45.7" x2="514.3" y2="136.4" stroke="#3a3a3a" stroke-width="1.2"/>
<line x1="423.0" y1="136.4" x2="514.9" y2="136.4" stroke="#222" stroke-width="1.2"/>
<line x1="423.5" y1="45.1" x2="423.5" y2="136.4" stroke="#555" stroke-width="1.1"/>
<line x1="421.5" y1="50.30" x2="423.5" y2="50.30" stroke="#333" stroke-width="0.8"/>
<text x="420.5" y="52.00" font-size="5.2" text-anchor="end" fill="#222">100</text>
<line x1="421.5" y1="67.52" x2="423.5" y2="67.52" stroke="#333" stroke-width="0.8"/>
<text x="420.5" y="69.22" font-size="5.2" text-anchor="end" fill="#222">80</text>
<line x1="421.5" y1="84.74" x2="423.5" y2="84.74" stroke="#333" stroke-width="0.8"/>
<text x="420.5" y="86.44" font-size="5.2" text-anchor="end" fill="#222">60</text>
<line x1="421.5" y1="101.96" x2="423.5" y2="101.96" stroke="#333" stroke-width="0.8"/>
<text x="420.5" y="103.66" font-size="5.2" text-anchor="end" fill="#222">40</text>
<line x1="421.5" y1="119.18" x2="423.5" y2="119.18" stroke="#333" stroke-width="0.8"/>
<text x="420.5" y="120.88" font-size="5.2" text-anchor="end" fill="#222">20</text>
<line x1="421.5" y1="136.40" x2="423.5" y2="136.40" stroke="#333" stroke-width="0.8"/>
<text x="420.5" y="138.10" font-size="5.2" text-anchor="end" fill="#222">0</text>
<line x1="422.5" y1="50.30" x2="423.5" y2="50.30" stroke="#666" stroke-width="0.5"/>
<line x1="422.5" y1="53.74" x2="423.5" y2="53.74" stroke="#666" stroke-width="0.5"/>
<line x1="422.5" y1="57.19" x2="423.5" y2="57.19" stroke="#666" stroke-width="0.5"/>
<line x1="422.5" y1="60.63" x2="423.5" y2="60.63" stroke="#666" stroke-width="0.5"/>
<line x1="422.5" y1="64.08" x2="423.5" y2="64.08" stroke="#666" stroke-width="0.5"/>
<line x1="422.5" y1="67.52" x2="423.5" y2="67.52" stroke="#666" stroke-width="0.5"/>
<line x1="422.5" y1="70.96" x2="423.5" y2="70.96" stroke="#666" stroke-width="0.5"/>
<line x1="422.5" y1="74.41" x2="423.5" y2="74.41" stroke="#666" stroke-width="0.5"/>
<line x1="422.5" y1="77.85" x2="423.5" y2="77.85" stroke="#666" stroke-width="0.5"/>
<line x1="422.5" y1="81.30" x2="423.5" y2="81.30" stroke="#666" stroke-width="0.5"/>
<line x1="422.5" y1="84.74" x2="423.5" y2="84.74" stroke="#666" stroke-width="0.5"/>
<line x1="422.5" y1="88.18" x2="423.5" y2="88.18" stroke="#666" stroke-width="0.5"/>
<line x1="422.5" y1="91.63" x2="423.5" y2="91.63" stroke="#666" stroke-width="0.5"/>
<line x1="422.5" y1="95.07" x2="423.5" y2="95.07" stroke="#666" stroke-width="0.5"/>
<line x1="422.5" y1="98.52" x2="423.5" y2="98.52" stroke="#666" stroke-width="0.5"/>
<line x1="422.5" y1="101.96" x2="423.5" y2="101.96" stroke="#666" stroke-width="0.5"/>
<line x1="422.5" y1="105.40" x2="423.5" y2="105.40" stroke="#666" stroke-width="0.5"/>
<line x1="422.5" y1="108.85" x2="423.5" y2="108.85" stroke="#666" stroke-width="0.5"/>
<line x1="422.5" y1="112.29" x2="423.5" y2="112.29" stroke="#666" stroke-width="0.5"/>
<line x1="422.5" y1="115.74" x2="423.5" y2="115.74" stroke="#666" stroke-width="0.5"/>
<line x1="422.5" y1="119.18" x2="423.5" y2="119.18" stroke="#666" stroke-width="0.5"/>
<line x1="422.5" y1="122.62" x2="423.5" y2="122.62" stroke="#666" stroke-width="0.5"/>
<line x1="422.5" y1="126.07" x2="423.5" y2="126.07" stroke="#666" stroke-width="0.5"/>
<line x1="422.5" y1="129.51" x2="423.5" y2="129.51" stroke="#666" stroke-width="0.5"/>
<line x1="422.5" y1="132.96" x2="423.5" y2="132.96" stroke="#666" stroke-width="0.5"/>
<line x1="428.95" y1="136.4" x2="428.95" y2="138.0" stroke="#555" stroke-width="0.7"/>
<line x1="431.65" y1="136.4" x2="431.65" y2="138.0" stroke="#555" stroke-width="0.7"/>
<line x1="434.35" y1="136.4" x2="434.35" y2="138.0" stroke="#555" stroke-width="0.7"/>
<line x1="437.05" y1="136.4" x2="437.05" y2="138.0" stroke="#555" stroke-width="0.7"/>
<line x1="439.75" y1="136.4" x2="439.75" y2="138.0" stroke="#555" stroke-width="0.7"/>
<line x1="442.45" y1="136.4" x2="442.45" y2="138.0" stroke="#555" stroke-width="0.7"/>
<line x1="445.15" y1="136.4" x2="445.15" y2="138.0" stroke="#555" stroke-width="0.7"/>
<line x1="447.85" y1="136.4" x2="447.85" y2="138.0" stroke="#555" stroke-width="0.7"/>
<line x1="450.55" y1="136.4" x2="450.55" y2="138.0" stroke="#555" stroke-width="0.7"/>
<line x1="453.25" y1="136.4" x2="453.25" y2="138.0" stroke="#555" stroke-width="0.7"/>
<line x1="455.95" y1="136.4" x2="455.95" y2="138.0" stroke="#555" stroke-width="0.7"/>
<line x1="458.65" y1="136.4" x2="458.65" y2="138.0" stroke="#555" stroke-width="0.7"/>
<line x1="461.35" y1="136.4" x2="461.35" y2="138.0" stroke="#555" stroke-width="0.7"/>
<line x1="469.61" y1="136.4" x2="469.61" y2="138.0" stroke="#555" stroke-width="0.7"/>
<line x1="473.48" y1="136.4" x2="473.48" y2="138.0" stroke="#555" stroke-width="0.7"/>
<line x1="476.23" y1="136.4" x2="476.23" y2="138.0" stroke="#555" stroke-width="0.7"/>
<line x1="478.36" y1="136.4" x2="478.36" y2="138.0" stroke="#555" stroke-width="0.7"/>
<line x1="480.10" y1="136.4" x2="480.10" y2="138.0" stroke="#555" stroke-width="0.7"/>
<line x1="481.57" y1="136.4" x2="481.57" y2="138.0" stroke="#555" stroke-width="0.7"/>
<line x1="482.84" y1="136.4" x2="482.84" y2="138.0" stroke="#555" stroke-width="0.7"/>
<line x1="483.97" y1="136.4" x2="483.97" y2="138.0" stroke="#555" stroke-width="0.7"/>
<line x1="490.98" y1="136.4" x2="490.98" y2="138.0" stroke="#555" stroke-width="0.7"/>
<line x1="494.50" y1="136.4" x2="494.50" y2="138.0" stroke="#555" stroke-width="0.7"/>
<line x1="497.00" y1="136.4" x2="497.00" y2="138.0" stroke="#555" stroke-width="0.7"/>
<line x1="498.93" y1="136.4" x2="498.93" y2="138.0" stroke="#555" stroke-width="0.7"/>
<line x1="500.52" y1="136.4" x2="500.52" y2="138.0" stroke="#555" stroke-width="0.7"/>
<line x1="501.85" y1="136.4" x2="501.85" y2="138.0" stroke="#555" stroke-width="0.7"/>
<line x1="503.01" y1="136.4" x2="503.01" y2="138.0" stroke="#555" stroke-width="0.7"/>
<line x1="504.03" y1="136.4" x2="504.03" y2="138.0" stroke="#555" stroke-width="0.7"/>
<line x1="510.96" y1="136.4" x2="510.96" y2="138.0" stroke="#555" stroke-width="0.7"/>
<line x1="436.48" y1="136.4" x2="436.48" y2="138.4" stroke="#333" stroke-width="0.8"/>
<text x="437.38" y="145.00" font-size="5.2" text-anchor="middle" fill="#555">0</text>
<line x1="463.00" y1="136.4" x2="463.00" y2="138.4" stroke="#333" stroke-width="0.8"/>
<text x="463.90" y="145.00" font-size="5.2" text-anchor="middle" fill="#555">10<tspan font-size='3.5' dy='-2'>3</tspan></text>
<line x1="484.97" y1="136.4" x2="484.97" y2="138.4" stroke="#333" stroke-width="0.8"/>
<text x="485.87" y="145.00" font-size="5.2" text-anchor="middle" fill="#555">10<tspan font-size='3.5' dy='-2'>4</tspan></text>
<line x1="504.95" y1="136.4" x2="504.95" y2="138.4" stroke="#333" stroke-width="0.8"/>
<text x="505.85" y="145.00" font-size="5.2" text-anchor="middle" fill="#555">10<tspan font-size='3.5' dy='-2'>5</tspan></text>
<clipPath id="c4"><path d="M65.40,281.00 L65.88,280.00 L70.69,280.00 L76.77,280.00 L78.65,277.24 L80.08,271.60 L81.02,262.21 L81.47,252.81 L81.96,243.42 L82.60,234.97 L83.84,225.57 L84.78,216.18 L85.72,206.79 L86.66,200.21 L87.60,196.45 L88.54,195.89 L65.40,195.89 Z"/></clipPath>
<path d="M70.58,280.00 L70.58,280.00 L71.63,280.00 L73.02,279.12 L74.90,276.30 L76.77,271.60 L78.20,262.21 L79.14,252.81 L80.08,243.42 L81.47,234.03 L82.60,225.57 L83.91,216.18 L85.04,206.79 L86.17,200.21 L87.30,196.45 L88.23,195.89 L88.99,197.39 L90.41,200.21 L91.80,203.03 L93.23,204.91 L94.62,205.85 L96.05,205.28 L96.99,204.91 L97.93,207.73 L98.87,210.54 L99.81,216.18 L100.75,223.69 L101.69,232.15 L102.63,243.42 L103.56,252.81 L104.50,262.21 L105.44,269.72 L106.83,275.36 L108.71,279.12 L110.59,280.00 L111.91,280.00 L111.91,280.00 Z" fill="#d3d3d3" stroke="none"/>
<path d="M70.58,280.00 L70.58,280.00 L71.63,280.00 L73.02,279.12 L74.90,276.30 L76.77,271.60 L78.20,262.21 L79.14,252.81 L80.08,243.42 L81.47,234.03 L82.60,225.57 L83.91,216.18 L85.04,206.79 L86.17,200.21 L87.30,196.45 L88.23,195.89 L88.99,197.39 L90.41,200.21 L91.80,203.03 L93.23,204.91 L94.62,205.85 L96.05,205.28 L96.99,204.91 L97.93,207.73 L98.87,210.54 L99.81,216.18 L100.75,223.69 L101.69,232.15 L102.63,243.42 L103.56,252.81 L104.50,262.21 L105.44,269.72 L106.83,275.36 L108.71,279.12 L110.59,280.00 L111.91,280.00 L111.91,280.00 Z" fill="#e8e8e8" stroke="none" clip-path="url(#c4)"/>
<path d="M70.58,280.00 L71.63,280.00 L73.02,279.12 L74.90,276.30 L76.77,271.60 L78.20,262.21 L79.14,252.81 L80.08,243.42 L81.47,234.03 L82.60,225.57 L83.91,216.18 L85.04,206.79 L86.17,200.21 L87.30,196.45 L88.23,195.89 L88.99,197.39 L90.41,200.21 L91.80,203.03 L93.23,204.91 L94.62,205.85 L96.05,205.28 L96.99,204.91 L97.93,207.73 L98.87,210.54 L99.81,216.18 L100.75,223.69 L101.69,232.15 L102.63,243.42 L103.56,252.81 L104.50,262.21 L105.44,269.72 L106.83,275.36 L108.71,279.12 L110.59,280.00 L111.91,280.00" fill="none" stroke="#777" stroke-width="1"/>
<path d="M65.88,280.00 L70.69,280.00 L76.77,280.00 L78.65,277.24 L80.08,271.60 L81.02,262.21 L81.47,252.81 L81.96,243.42 L82.60,234.97 L83.84,225.57 L84.78,216.18 L85.72,206.79 L86.66,200.21 L87.60,196.45 L88.54,195.89 L89.47,198.33 L90.23,204.91 L90.86,212.42 L91.54,219.94 L92.29,227.45 L93.23,234.03 L94.17,239.66 L95.11,245.30 L96.05,250.94 L96.99,255.07 L98.38,256.95 L99.81,258.45 L101.69,259.77 L103.56,260.33 L105.44,260.70 L107.32,261.27 L109.20,260.70 L111.08,259.77 L111.91,260.33 L113.78,259.39 L115.66,258.83 L117.07,258.45 L118.48,260.70 L119.89,261.27 L121.30,258.83 L123.18,261.27 L124.59,263.15 L126.47,263.52 L128.34,264.46 L129.75,266.34 L131.16,269.16 L132.57,271.60 L134.45,273.48 L136.33,275.36 L138.21,277.24 L140.09,278.55 L141.96,279.87 L143.84,280.00 L156.62,280.00" fill="none" stroke="#000" stroke-width="2.1" stroke-linejoin="round"/>
<line x1="65.4" y1="189.8" x2="156.95" y2="189.8" stroke="#707070" stroke-width="1.3"/>
<line x1="156.35" y1="189.8" x2="156.35" y2="280.0" stroke="#3a3a3a" stroke-width="1.2"/>
<line x1="64.9" y1="280.0" x2="156.95" y2="280.0" stroke="#222" stroke-width="1.2"/>
<line x1="65.4" y1="189.20000000000002" x2="65.4" y2="280.0" stroke="#555" stroke-width="1.1"/>
<line x1="63.400000000000006" y1="194.40" x2="65.4" y2="194.40" stroke="#333" stroke-width="0.8"/>
<text x="62.400000000000006" y="196.10" font-size="5.2" text-anchor="end" fill="#222">100</text>
<line x1="63.400000000000006" y1="211.52" x2="65.4" y2="211.52" stroke="#333" stroke-width="0.8"/>
<text x="62.400000000000006" y="213.22" font-size="5.2" text-anchor="end" fill="#222">80</text>
<line x1="63.400000000000006" y1="228.64" x2="65.4" y2="228.64" stroke="#333" stroke-width="0.8"/>
<text x="62.400000000000006" y="230.34" font-size="5.2" text-anchor="end" fill="#222">60</text>
<line x1="63.400000000000006" y1="245.76" x2="65.4" y2="245.76" stroke="#333" stroke-width="0.8"/>
<text x="62.400000000000006" y="247.46" font-size="5.2" text-anchor="end" fill="#222">40</text>
<line x1="63.400000000000006" y1="262.88" x2="65.4" y2="262.88" stroke="#333" stroke-width="0.8"/>
<text x="62.400000000000006" y="264.58" font-size="5.2" text-anchor="end" fill="#222">20</text>
<line x1="63.400000000000006" y1="280.00" x2="65.4" y2="280.00" stroke="#333" stroke-width="0.8"/>
<text x="62.400000000000006" y="281.70" font-size="5.2" text-anchor="end" fill="#222">0</text>
<line x1="64.4" y1="194.40" x2="65.4" y2="194.40" stroke="#666" stroke-width="0.5"/>
<line x1="64.4" y1="197.82" x2="65.4" y2="197.82" stroke="#666" stroke-width="0.5"/>
<line x1="64.4" y1="201.25" x2="65.4" y2="201.25" stroke="#666" stroke-width="0.5"/>
<line x1="64.4" y1="204.67" x2="65.4" y2="204.67" stroke="#666" stroke-width="0.5"/>
<line x1="64.4" y1="208.10" x2="65.4" y2="208.10" stroke="#666" stroke-width="0.5"/>
<line x1="64.4" y1="211.52" x2="65.4" y2="211.52" stroke="#666" stroke-width="0.5"/>
<line x1="64.4" y1="214.94" x2="65.4" y2="214.94" stroke="#666" stroke-width="0.5"/>
<line x1="64.4" y1="218.37" x2="65.4" y2="218.37" stroke="#666" stroke-width="0.5"/>
<line x1="64.4" y1="221.79" x2="65.4" y2="221.79" stroke="#666" stroke-width="0.5"/>
<line x1="64.4" y1="225.22" x2="65.4" y2="225.22" stroke="#666" stroke-width="0.5"/>
<line x1="64.4" y1="228.64" x2="65.4" y2="228.64" stroke="#666" stroke-width="0.5"/>
<line x1="64.4" y1="232.06" x2="65.4" y2="232.06" stroke="#666" stroke-width="0.5"/>
<line x1="64.4" y1="235.49" x2="65.4" y2="235.49" stroke="#666" stroke-width="0.5"/>
<line x1="64.4" y1="238.91" x2="65.4" y2="238.91" stroke="#666" stroke-width="0.5"/>
<line x1="64.4" y1="242.34" x2="65.4" y2="242.34" stroke="#666" stroke-width="0.5"/>
<line x1="64.4" y1="245.76" x2="65.4" y2="245.76" stroke="#666" stroke-width="0.5"/>
<line x1="64.4" y1="249.18" x2="65.4" y2="249.18" stroke="#666" stroke-width="0.5"/>
<line x1="64.4" y1="252.61" x2="65.4" y2="252.61" stroke="#666" stroke-width="0.5"/>
<line x1="64.4" y1="256.03" x2="65.4" y2="256.03" stroke="#666" stroke-width="0.5"/>
<line x1="64.4" y1="259.46" x2="65.4" y2="259.46" stroke="#666" stroke-width="0.5"/>
<line x1="64.4" y1="262.88" x2="65.4" y2="262.88" stroke="#666" stroke-width="0.5"/>
<line x1="64.4" y1="266.30" x2="65.4" y2="266.30" stroke="#666" stroke-width="0.5"/>
<line x1="64.4" y1="269.73" x2="65.4" y2="269.73" stroke="#666" stroke-width="0.5"/>
<line x1="64.4" y1="273.15" x2="65.4" y2="273.15" stroke="#666" stroke-width="0.5"/>
<line x1="64.4" y1="276.58" x2="65.4" y2="276.58" stroke="#666" stroke-width="0.5"/>
<line x1="70.86" y1="280.0" x2="70.86" y2="281.6" stroke="#555" stroke-width="0.7"/>
<line x1="73.56" y1="280.0" x2="73.56" y2="281.6" stroke="#555" stroke-width="0.7"/>
<line x1="76.26" y1="280.0" x2="76.26" y2="281.6" stroke="#555" stroke-width="0.7"/>
<line x1="78.96" y1="280.0" x2="78.96" y2="281.6" stroke="#555" stroke-width="0.7"/>
<line x1="81.66" y1="280.0" x2="81.66" y2="281.6" stroke="#555" stroke-width="0.7"/>
<line x1="84.36" y1="280.0" x2="84.36" y2="281.6" stroke="#555" stroke-width="0.7"/>
<line x1="87.06" y1="280.0" x2="87.06" y2="281.6" stroke="#555" stroke-width="0.7"/>
<line x1="89.76" y1="280.0" x2="89.76" y2="281.6" stroke="#555" stroke-width="0.7"/>
<line x1="92.46" y1="280.0" x2="92.46" y2="281.6" stroke="#555" stroke-width="0.7"/>
<line x1="95.16" y1="280.0" x2="95.16" y2="281.6" stroke="#555" stroke-width="0.7"/>
<line x1="97.86" y1="280.0" x2="97.86" y2="281.6" stroke="#555" stroke-width="0.7"/>
<line x1="100.56" y1="280.0" x2="100.56" y2="281.6" stroke="#555" stroke-width="0.7"/>
<line x1="103.26" y1="280.0" x2="103.26" y2="281.6" stroke="#555" stroke-width="0.7"/>
<line x1="111.59" y1="280.0" x2="111.59" y2="281.6" stroke="#555" stroke-width="0.7"/>
<line x1="115.46" y1="280.0" x2="115.46" y2="281.6" stroke="#555" stroke-width="0.7"/>
<line x1="118.21" y1="280.0" x2="118.21" y2="281.6" stroke="#555" stroke-width="0.7"/>
<line x1="120.35" y1="280.0" x2="120.35" y2="281.6" stroke="#555" stroke-width="0.7"/>
<line x1="122.09" y1="280.0" x2="122.09" y2="281.6" stroke="#555" stroke-width="0.7"/>
<line x1="123.56" y1="280.0" x2="123.56" y2="281.6" stroke="#555" stroke-width="0.7"/>
<line x1="124.84" y1="280.0" x2="124.84" y2="281.6" stroke="#555" stroke-width="0.7"/>
<line x1="125.97" y1="280.0" x2="125.97" y2="281.6" stroke="#555" stroke-width="0.7"/>
<line x1="133.00" y1="280.0" x2="133.00" y2="281.6" stroke="#555" stroke-width="0.7"/>
<line x1="136.52" y1="280.0" x2="136.52" y2="281.6" stroke="#555" stroke-width="0.7"/>
<line x1="139.02" y1="280.0" x2="139.02" y2="281.6" stroke="#555" stroke-width="0.7"/>
<line x1="140.96" y1="280.0" x2="140.96" y2="281.6" stroke="#555" stroke-width="0.7"/>
<line x1="142.54" y1="280.0" x2="142.54" y2="281.6" stroke="#555" stroke-width="0.7"/>
<line x1="143.88" y1="280.0" x2="143.88" y2="281.6" stroke="#555" stroke-width="0.7"/>
<line x1="145.04" y1="280.0" x2="145.04" y2="281.6" stroke="#555" stroke-width="0.7"/>
<line x1="146.07" y1="280.0" x2="146.07" y2="281.6" stroke="#555" stroke-width="0.7"/>
<line x1="153.01" y1="280.0" x2="153.01" y2="281.6" stroke="#555" stroke-width="0.7"/>
<line x1="78.41" y1="280.0" x2="78.41" y2="282.0" stroke="#333" stroke-width="0.8"/>
<text x="79.31" y="288.60" font-size="5.2" text-anchor="middle" fill="#555">0</text>
<line x1="104.96" y1="280.0" x2="104.96" y2="282.0" stroke="#333" stroke-width="0.8"/>
<text x="105.86" y="288.60" font-size="5.2" text-anchor="middle" fill="#555">10<tspan font-size='3.5' dy='-2'>3</tspan></text>
<line x1="126.97" y1="280.0" x2="126.97" y2="282.0" stroke="#333" stroke-width="0.8"/>
<text x="127.87" y="288.60" font-size="5.2" text-anchor="middle" fill="#555">10<tspan font-size='3.5' dy='-2'>4</tspan></text>
<line x1="146.98" y1="280.0" x2="146.98" y2="282.0" stroke="#333" stroke-width="0.8"/>
<text x="147.88" y="288.60" font-size="5.2" text-anchor="middle" fill="#555">10<tspan font-size='3.5' dy='-2'>5</tspan></text>
<clipPath id="c5"><path d="M184.40,282.70 L184.88,280.99 L192.39,280.81 L193.76,280.43 L195.17,279.12 L196.58,275.36 L197.99,269.72 L199.40,262.21 L200.34,252.81 L201.28,243.42 L202.22,234.03 L203.16,225.57 L204.10,219.00 L205.04,214.30 L205.79,206.79 L206.45,200.21 L206.92,196.83 L184.40,196.83 Z"/></clipPath>
<path d="M192.39,281.70 L192.39,280.99 L193.90,280.43 L195.31,279.12 L196.71,275.36 L198.12,269.72 L199.53,262.21 L200.47,252.81 L201.41,243.42 L202.35,234.03 L203.29,225.57 L204.23,219.00 L205.17,214.30 L205.92,206.79 L206.58,200.21 L207.05,197.77 L207.80,198.33 L208.79,198.33 L210.20,201.15 L211.61,202.09 L213.02,202.09 L213.96,206.79 L214.90,213.36 L215.84,218.06 L216.78,222.76 L218.19,227.45 L219.13,231.21 L220.07,236.85 L221.48,245.30 L222.88,250.94 L224.29,256.57 L225.70,261.27 L227.58,265.03 L229.46,268.78 L231.34,271.60 L232.00,272.54 L233.87,273.86 L235.75,276.30 L237.63,278.55 L239.51,280.05 L241.24,280.99 L241.24,281.70 Z" fill="#d3d3d3" stroke="none"/>
<path d="M192.39,280.99 L193.90,280.43 L195.31,279.12 L196.71,275.36 L198.12,269.72 L199.53,262.21 L200.47,252.81 L201.41,243.42 L202.35,234.03 L203.29,225.57 L204.23,219.00 L205.17,214.30 L205.92,206.79 L206.58,200.21 L207.05,197.77 L207.80,198.33 L208.79,198.33 L210.20,201.15 L211.61,202.09 L213.02,202.09 L213.96,206.79 L214.90,213.36 L215.84,218.06 L216.78,222.76 L218.19,227.45 L219.13,231.21 L220.07,236.85 L221.48,245.30 L222.88,250.94 L224.29,256.57 L225.70,261.27 L227.58,265.03 L229.46,268.78 L231.34,271.60 L232.00,272.54 L233.87,273.86 L235.75,276.30 L237.63,278.55 L239.51,280.05 L241.24,280.99" fill="none" stroke="#777" stroke-width="1"/>
<path d="M184.88,280.99 L192.39,280.81 L193.76,280.43 L195.17,279.12 L196.58,275.36 L197.99,269.72 L199.40,262.21 L200.34,252.81 L201.28,243.42 L202.22,234.03 L203.16,225.57 L204.10,219.00 L205.04,214.30 L205.79,206.79 L206.45,200.21 L206.92,196.83 L207.39,198.33 L207.85,202.09 L208.79,201.53 L209.73,203.03 L210.20,206.79 L210.86,212.42 L211.61,218.06 L212.55,223.69 L213.49,228.39 L214.43,233.09 L214.94,235.91 L215.69,234.03 L216.31,236.85 L217.19,233.46 L218.19,235.34 L219.07,232.71 L220.07,235.91 L220.95,232.71 L221.89,234.97 L222.88,233.09 L223.77,234.97 L224.71,231.59 L225.70,230.83 L226.40,227.83 L227.11,229.33 L227.71,225.57 L228.52,227.83 L229.22,224.63 L229.93,228.39 L230.72,224.07 L231.34,227.45 L232.03,224.63 L232.75,227.83 L233.40,226.51 L234.16,223.69 L234.81,220.88 L235.75,225.57 L236.69,230.27 L237.63,234.97 L238.57,239.66 L239.98,246.24 L241.39,250.94 L243.74,253.75 L245.15,256.57 L246.56,262.21 L248.43,265.96 L250.31,269.72 L252.19,274.42 L254.07,277.61 L256.42,279.49 L259.24,280.43 L275.62,280.99" fill="none" stroke="#000" stroke-width="2.1" stroke-linejoin="round"/>
<line x1="184.4" y1="191.3" x2="276.1" y2="191.3" stroke="#1a1a1a" stroke-width="1.3"/>
<line x1="275.5" y1="191.3" x2="275.5" y2="281.7" stroke="#3a3a3a" stroke-width="1.2"/>
<line x1="183.9" y1="281.7" x2="276.1" y2="281.7" stroke="#222" stroke-width="1.2"/>
<line x1="184.4" y1="190.70000000000002" x2="184.4" y2="281.7" stroke="#555" stroke-width="1.1"/>
<line x1="182.4" y1="195.90" x2="184.4" y2="195.90" stroke="#333" stroke-width="0.8"/>
<text x="181.4" y="197.60" font-size="5.2" text-anchor="end" fill="#222">100</text>
<line x1="182.4" y1="213.06" x2="184.4" y2="213.06" stroke="#333" stroke-width="0.8"/>
<text x="181.4" y="214.76" font-size="5.2" text-anchor="end" fill="#222">80</text>
<line x1="182.4" y1="230.22" x2="184.4" y2="230.22" stroke="#333" stroke-width="0.8"/>
<text x="181.4" y="231.92" font-size="5.2" text-anchor="end" fill="#222">60</text>
<line x1="182.4" y1="247.38" x2="184.4" y2="247.38" stroke="#333" stroke-width="0.8"/>
<text x="181.4" y="249.08" font-size="5.2" text-anchor="end" fill="#222">40</text>
<line x1="182.4" y1="264.54" x2="184.4" y2="264.54" stroke="#333" stroke-width="0.8"/>
<text x="181.4" y="266.24" font-size="5.2" text-anchor="end" fill="#222">20</text>
<line x1="182.4" y1="281.70" x2="184.4" y2="281.70" stroke="#333" stroke-width="0.8"/>
<text x="181.4" y="283.40" font-size="5.2" text-anchor="end" fill="#222">0</text>
<line x1="183.4" y1="195.90" x2="184.4" y2="195.90" stroke="#666" stroke-width="0.5"/>
<line x1="183.4" y1="199.33" x2="184.4" y2="199.33" stroke="#666" stroke-width="0.5"/>
<line x1="183.4" y1="202.76" x2="184.4" y2="202.76" stroke="#666" stroke-width="0.5"/>
<line x1="183.4" y1="206.20" x2="184.4" y2="206.20" stroke="#666" stroke-width="0.5"/>
<line x1="183.4" y1="209.63" x2="184.4" y2="209.63" stroke="#666" stroke-width="0.5"/>
<line x1="183.4" y1="213.06" x2="184.4" y2="213.06" stroke="#666" stroke-width="0.5"/>
<line x1="183.4" y1="216.49" x2="184.4" y2="216.49" stroke="#666" stroke-width="0.5"/>
<line x1="183.4" y1="219.92" x2="184.4" y2="219.92" stroke="#666" stroke-width="0.5"/>
<line x1="183.4" y1="223.36" x2="184.4" y2="223.36" stroke="#666" stroke-width="0.5"/>
<line x1="183.4" y1="226.79" x2="184.4" y2="226.79" stroke="#666" stroke-width="0.5"/>
<line x1="183.4" y1="230.22" x2="184.4" y2="230.22" stroke="#666" stroke-width="0.5"/>
<line x1="183.4" y1="233.65" x2="184.4" y2="233.65" stroke="#666" stroke-width="0.5"/>
<line x1="183.4" y1="237.08" x2="184.4" y2="237.08" stroke="#666" stroke-width="0.5"/>
<line x1="183.4" y1="240.52" x2="184.4" y2="240.52" stroke="#666" stroke-width="0.5"/>
<line x1="183.4" y1="243.95" x2="184.4" y2="243.95" stroke="#666" stroke-width="0.5"/>
<line x1="183.4" y1="247.38" x2="184.4" y2="247.38" stroke="#666" stroke-width="0.5"/>
<line x1="183.4" y1="250.81" x2="184.4" y2="250.81" stroke="#666" stroke-width="0.5"/>
<line x1="183.4" y1="254.24" x2="184.4" y2="254.24" stroke="#666" stroke-width="0.5"/>
<line x1="183.4" y1="257.68" x2="184.4" y2="257.68" stroke="#666" stroke-width="0.5"/>
<line x1="183.4" y1="261.11" x2="184.4" y2="261.11" stroke="#666" stroke-width="0.5"/>
<line x1="183.4" y1="264.54" x2="184.4" y2="264.54" stroke="#666" stroke-width="0.5"/>
<line x1="183.4" y1="267.97" x2="184.4" y2="267.97" stroke="#666" stroke-width="0.5"/>
<line x1="183.4" y1="271.40" x2="184.4" y2="271.40" stroke="#666" stroke-width="0.5"/>
<line x1="183.4" y1="274.84" x2="184.4" y2="274.84" stroke="#666" stroke-width="0.5"/>
<line x1="183.4" y1="278.27" x2="184.4" y2="278.27" stroke="#666" stroke-width="0.5"/>
<line x1="189.87" y1="281.7" x2="189.87" y2="283.3" stroke="#555" stroke-width="0.7"/>
<line x1="192.57" y1="281.7" x2="192.57" y2="283.3" stroke="#555" stroke-width="0.7"/>
<line x1="195.27" y1="281.7" x2="195.27" y2="283.3" stroke="#555" stroke-width="0.7"/>
<line x1="197.97" y1="281.7" x2="197.97" y2="283.3" stroke="#555" stroke-width="0.7"/>
<line x1="200.67" y1="281.7" x2="200.67" y2="283.3" stroke="#555" stroke-width="0.7"/>
<line x1="203.37" y1="281.7" x2="203.37" y2="283.3" stroke="#555" stroke-width="0.7"/>
<line x1="206.07" y1="281.7" x2="206.07" y2="283.3" stroke="#555" stroke-width="0.7"/>
<line x1="208.77" y1="281.7" x2="208.77" y2="283.3" stroke="#555" stroke-width="0.7"/>
<line x1="211.47" y1="281.7" x2="211.47" y2="283.3" stroke="#555" stroke-width="0.7"/>
<line x1="214.17" y1="281.7" x2="214.17" y2="283.3" stroke="#555" stroke-width="0.7"/>
<line x1="216.87" y1="281.7" x2="216.87" y2="283.3" stroke="#555" stroke-width="0.7"/>
<line x1="219.57" y1="281.7" x2="219.57" y2="283.3" stroke="#555" stroke-width="0.7"/>
<line x1="222.27" y1="281.7" x2="222.27" y2="283.3" stroke="#555" stroke-width="0.7"/>
<line x1="230.67" y1="281.7" x2="230.67" y2="283.3" stroke="#555" stroke-width="0.7"/>
<line x1="234.55" y1="281.7" x2="234.55" y2="283.3" stroke="#555" stroke-width="0.7"/>
<line x1="237.30" y1="281.7" x2="237.30" y2="283.3" stroke="#555" stroke-width="0.7"/>
<line x1="239.44" y1="281.7" x2="239.44" y2="283.3" stroke="#555" stroke-width="0.7"/>
<line x1="241.18" y1="281.7" x2="241.18" y2="283.3" stroke="#555" stroke-width="0.7"/>
<line x1="242.66" y1="281.7" x2="242.66" y2="283.3" stroke="#555" stroke-width="0.7"/>
<line x1="243.94" y1="281.7" x2="243.94" y2="283.3" stroke="#555" stroke-width="0.7"/>
<line x1="245.07" y1="281.7" x2="245.07" y2="283.3" stroke="#555" stroke-width="0.7"/>
<line x1="252.11" y1="281.7" x2="252.11" y2="283.3" stroke="#555" stroke-width="0.7"/>
<line x1="255.64" y1="281.7" x2="255.64" y2="283.3" stroke="#555" stroke-width="0.7"/>
<line x1="258.14" y1="281.7" x2="258.14" y2="283.3" stroke="#555" stroke-width="0.7"/>
<line x1="260.08" y1="281.7" x2="260.08" y2="283.3" stroke="#555" stroke-width="0.7"/>
<line x1="261.67" y1="281.7" x2="261.67" y2="283.3" stroke="#555" stroke-width="0.7"/>
<line x1="263.01" y1="281.7" x2="263.01" y2="283.3" stroke="#555" stroke-width="0.7"/>
<line x1="264.17" y1="281.7" x2="264.17" y2="283.3" stroke="#555" stroke-width="0.7"/>
<line x1="265.20" y1="281.7" x2="265.20" y2="283.3" stroke="#555" stroke-width="0.7"/>
<line x1="272.15" y1="281.7" x2="272.15" y2="283.3" stroke="#555" stroke-width="0.7"/>
<line x1="197.43" y1="281.7" x2="197.43" y2="283.7" stroke="#333" stroke-width="0.8"/>
<text x="198.33" y="290.30" font-size="5.2" text-anchor="middle" fill="#555">0</text>
<line x1="224.03" y1="281.7" x2="224.03" y2="283.7" stroke="#333" stroke-width="0.8"/>
<text x="224.93" y="290.30" font-size="5.2" text-anchor="middle" fill="#555">10<tspan font-size='3.5' dy='-2'>3</tspan></text>
<line x1="246.07" y1="281.7" x2="246.07" y2="283.7" stroke="#333" stroke-width="0.8"/>
<text x="246.97" y="290.30" font-size="5.2" text-anchor="middle" fill="#555">10<tspan font-size='3.5' dy='-2'>4</tspan></text>
<line x1="266.12" y1="281.7" x2="266.12" y2="283.7" stroke="#333" stroke-width="0.8"/>
<text x="267.02" y="290.30" font-size="5.2" text-anchor="middle" fill="#555">10<tspan font-size='3.5' dy='-2'>5</tspan></text>
<clipPath id="c6"><path d="M304.40,282.70 L303.88,280.99 L312.33,280.81 L314.21,280.43 L316.09,279.12 L318.46,275.36 L320.34,269.72 L321.73,262.21 L322.67,252.81 L323.60,243.42 L324.54,234.59 L325.48,225.57 L326.42,216.18 L327.36,208.67 L328.79,203.03 L330.18,199.27 L331.61,197.39 L304.40,197.39 Z"/></clipPath>
<path d="M316.09,281.70 L316.09,280.99 L317.52,280.05 L320.34,276.30 L322.67,266.90 L324.09,252.81 L324.92,243.42 L325.48,234.03 L326.23,225.57 L326.99,216.18 L327.93,208.67 L329.24,202.65 L330.56,198.90 L331.61,197.77 L332.55,202.09 L333.94,209.60 L334.88,216.18 L335.82,220.88 L336.76,228.39 L337.69,234.97 L338.63,243.42 L339.57,252.81 L341.00,262.21 L342.39,269.72 L343.82,275.36 L345.21,279.12 L346.15,280.43 L347.46,280.99 L347.46,281.70 Z" fill="#d3d3d3" stroke="none"/>
<path d="M316.09,280.99 L317.52,280.05 L320.34,276.30 L322.67,266.90 L324.09,252.81 L324.92,243.42 L325.48,234.03 L326.23,225.57 L326.99,216.18 L327.93,208.67 L329.24,202.65 L330.56,198.90 L331.61,197.77 L332.55,202.09 L333.94,209.60 L334.88,216.18 L335.82,220.88 L336.76,228.39 L337.69,234.97 L338.63,243.42 L339.57,252.81 L341.00,262.21 L342.39,269.72 L343.82,275.36 L345.21,279.12 L346.15,280.43 L347.46,280.99" fill="none" stroke="#777" stroke-width="1"/>
<path d="M303.88,280.99 L312.33,280.81 L314.21,280.43 L316.09,279.12 L318.46,275.36 L320.34,269.72 L321.73,262.21 L322.67,252.81 L323.60,243.42 L324.54,234.59 L325.48,225.57 L326.42,216.18 L327.36,208.67 L328.79,203.03 L330.18,199.27 L331.61,197.39 L333.00,201.15 L334.43,206.79 L335.82,211.48 L337.24,214.30 L338.63,217.12 L340.06,219.94 L341.00,224.63 L342.39,225.57 L343.33,222.76 L344.76,223.69 L346.15,225.57 L347.58,224.63 L349.46,225.57 L350.47,224.07 L351.41,222.76 L352.16,220.88 L352.82,218.06 L353.76,221.82 L355.09,221.82 L356.11,223.32 L357.51,224.63 L359.39,224.63 L361.27,228.39 L362.68,230.27 L364.09,233.09 L365.12,234.97 L365.97,237.78 L367.85,241.54 L368.79,246.24 L370.20,251.87 L371.60,256.57 L373.48,261.27 L375.36,265.96 L376.77,270.66 L378.18,274.42 L380.06,277.24 L382.41,279.49 L384.76,280.43 L394.62,280.99" fill="none" stroke="#000" stroke-width="2.1" stroke-linejoin="round"/>
<line x1="304.4" y1="191.3" x2="395.6" y2="191.3" stroke="#1a1a1a" stroke-width="1.3"/>
<line x1="395.0" y1="191.3" x2="395.0" y2="281.7" stroke="#999" stroke-width="1.2"/>
<line x1="303.9" y1="281.7" x2="395.6" y2="281.7" stroke="#222" stroke-width="1.2"/>
<line x1="304.4" y1="190.70000000000002" x2="304.4" y2="281.7" stroke="#555" stroke-width="1.1"/>
<line x1="302.4" y1="195.90" x2="304.4" y2="195.90" stroke="#333" stroke-width="0.8"/>
<text x="301.4" y="197.60" font-size="5.2" text-anchor="end" fill="#222">100</text>
<line x1="302.4" y1="213.06" x2="304.4" y2="213.06" stroke="#333" stroke-width="0.8"/>
<text x="301.4" y="214.76" font-size="5.2" text-anchor="end" fill="#222">80</text>
<line x1="302.4" y1="230.22" x2="304.4" y2="230.22" stroke="#333" stroke-width="0.8"/>
<text x="301.4" y="231.92" font-size="5.2" text-anchor="end" fill="#222">60</text>
<line x1="302.4" y1="247.38" x2="304.4" y2="247.38" stroke="#333" stroke-width="0.8"/>
<text x="301.4" y="249.08" font-size="5.2" text-anchor="end" fill="#222">40</text>
<line x1="302.4" y1="264.54" x2="304.4" y2="264.54" stroke="#333" stroke-width="0.8"/>
<text x="301.4" y="266.24" font-size="5.2" text-anchor="end" fill="#222">20</text>
<line x1="302.4" y1="281.70" x2="304.4" y2="281.70" stroke="#333" stroke-width="0.8"/>
<text x="301.4" y="283.40" font-size="5.2" text-anchor="end" fill="#222">0</text>
<line x1="303.4" y1="195.90" x2="304.4" y2="195.90" stroke="#666" stroke-width="0.5"/>
<line x1="303.4" y1="199.33" x2="304.4" y2="199.33" stroke="#666" stroke-width="0.5"/>
<line x1="303.4" y1="202.76" x2="304.4" y2="202.76" stroke="#666" stroke-width="0.5"/>
<line x1="303.4" y1="206.20" x2="304.4" y2="206.20" stroke="#666" stroke-width="0.5"/>
<line x1="303.4" y1="209.63" x2="304.4" y2="209.63" stroke="#666" stroke-width="0.5"/>
<line x1="303.4" y1="213.06" x2="304.4" y2="213.06" stroke="#666" stroke-width="0.5"/>
<line x1="303.4" y1="216.49" x2="304.4" y2="216.49" stroke="#666" stroke-width="0.5"/>
<line x1="303.4" y1="219.92" x2="304.4" y2="219.92" stroke="#666" stroke-width="0.5"/>
<line x1="303.4" y1="223.36" x2="304.4" y2="223.36" stroke="#666" stroke-width="0.5"/>
<line x1="303.4" y1="226.79" x2="304.4" y2="226.79" stroke="#666" stroke-width="0.5"/>
<line x1="303.4" y1="230.22" x2="304.4" y2="230.22" stroke="#666" stroke-width="0.5"/>
<line x1="303.4" y1="233.65" x2="304.4" y2="233.65" stroke="#666" stroke-width="0.5"/>
<line x1="303.4" y1="237.08" x2="304.4" y2="237.08" stroke="#666" stroke-width="0.5"/>
<line x1="303.4" y1="240.52" x2="304.4" y2="240.52" stroke="#666" stroke-width="0.5"/>
<line x1="303.4" y1="243.95" x2="304.4" y2="243.95" stroke="#666" stroke-width="0.5"/>
<line x1="303.4" y1="247.38" x2="304.4" y2="247.38" stroke="#666" stroke-width="0.5"/>
<line x1="303.4" y1="250.81" x2="304.4" y2="250.81" stroke="#666" stroke-width="0.5"/>
<line x1="303.4" y1="254.24" x2="304.4" y2="254.24" stroke="#666" stroke-width="0.5"/>
<line x1="303.4" y1="257.68" x2="304.4" y2="257.68" stroke="#666" stroke-width="0.5"/>
<line x1="303.4" y1="261.11" x2="304.4" y2="261.11" stroke="#666" stroke-width="0.5"/>
<line x1="303.4" y1="264.54" x2="304.4" y2="264.54" stroke="#666" stroke-width="0.5"/>
<line x1="303.4" y1="267.97" x2="304.4" y2="267.97" stroke="#666" stroke-width="0.5"/>
<line x1="303.4" y1="271.40" x2="304.4" y2="271.40" stroke="#666" stroke-width="0.5"/>
<line x1="303.4" y1="274.84" x2="304.4" y2="274.84" stroke="#666" stroke-width="0.5"/>
<line x1="303.4" y1="278.27" x2="304.4" y2="278.27" stroke="#666" stroke-width="0.5"/>
<line x1="309.84" y1="281.7" x2="309.84" y2="283.3" stroke="#555" stroke-width="0.7"/>
<line x1="312.54" y1="281.7" x2="312.54" y2="283.3" stroke="#555" stroke-width="0.7"/>
<line x1="315.24" y1="281.7" x2="315.24" y2="283.3" stroke="#555" stroke-width="0.7"/>
<line x1="317.94" y1="281.7" x2="317.94" y2="283.3" stroke="#555" stroke-width="0.7"/>
<line x1="320.64" y1="281.7" x2="320.64" y2="283.3" stroke="#555" stroke-width="0.7"/>
<line x1="323.34" y1="281.7" x2="323.34" y2="283.3" stroke="#555" stroke-width="0.7"/>
<line x1="326.04" y1="281.7" x2="326.04" y2="283.3" stroke="#555" stroke-width="0.7"/>
<line x1="328.74" y1="281.7" x2="328.74" y2="283.3" stroke="#555" stroke-width="0.7"/>
<line x1="331.44" y1="281.7" x2="331.44" y2="283.3" stroke="#555" stroke-width="0.7"/>
<line x1="334.14" y1="281.7" x2="334.14" y2="283.3" stroke="#555" stroke-width="0.7"/>
<line x1="336.84" y1="281.7" x2="336.84" y2="283.3" stroke="#555" stroke-width="0.7"/>
<line x1="339.54" y1="281.7" x2="339.54" y2="283.3" stroke="#555" stroke-width="0.7"/>
<line x1="342.24" y1="281.7" x2="342.24" y2="283.3" stroke="#555" stroke-width="0.7"/>
<line x1="350.41" y1="281.7" x2="350.41" y2="283.3" stroke="#555" stroke-width="0.7"/>
<line x1="354.27" y1="281.7" x2="354.27" y2="283.3" stroke="#555" stroke-width="0.7"/>
<line x1="357.01" y1="281.7" x2="357.01" y2="283.3" stroke="#555" stroke-width="0.7"/>
<line x1="359.14" y1="281.7" x2="359.14" y2="283.3" stroke="#555" stroke-width="0.7"/>
<line x1="360.87" y1="281.7" x2="360.87" y2="283.3" stroke="#555" stroke-width="0.7"/>
<line x1="362.34" y1="281.7" x2="362.34" y2="283.3" stroke="#555" stroke-width="0.7"/>
<line x1="363.61" y1="281.7" x2="363.61" y2="283.3" stroke="#555" stroke-width="0.7"/>
<line x1="364.73" y1="281.7" x2="364.73" y2="283.3" stroke="#555" stroke-width="0.7"/>
<line x1="371.74" y1="281.7" x2="371.74" y2="283.3" stroke="#555" stroke-width="0.7"/>
<line x1="375.25" y1="281.7" x2="375.25" y2="283.3" stroke="#555" stroke-width="0.7"/>
<line x1="377.74" y1="281.7" x2="377.74" y2="283.3" stroke="#555" stroke-width="0.7"/>
<line x1="379.67" y1="281.7" x2="379.67" y2="283.3" stroke="#555" stroke-width="0.7"/>
<line x1="381.25" y1="281.7" x2="381.25" y2="283.3" stroke="#555" stroke-width="0.7"/>
<line x1="382.58" y1="281.7" x2="382.58" y2="283.3" stroke="#555" stroke-width="0.7"/>
<line x1="383.74" y1="281.7" x2="383.74" y2="283.3" stroke="#555" stroke-width="0.7"/>
<line x1="384.76" y1="281.7" x2="384.76" y2="283.3" stroke="#555" stroke-width="0.7"/>
<line x1="391.67" y1="281.7" x2="391.67" y2="283.3" stroke="#555" stroke-width="0.7"/>
<line x1="317.36" y1="281.7" x2="317.36" y2="283.7" stroke="#333" stroke-width="0.8"/>
<text x="318.26" y="290.30" font-size="5.2" text-anchor="middle" fill="#555">0</text>
<line x1="343.81" y1="281.7" x2="343.81" y2="283.7" stroke="#333" stroke-width="0.8"/>
<text x="344.71" y="290.30" font-size="5.2" text-anchor="middle" fill="#555">10<tspan font-size='3.5' dy='-2'>3</tspan></text>
<line x1="365.74" y1="281.7" x2="365.74" y2="283.7" stroke="#333" stroke-width="0.8"/>
<text x="366.64" y="290.30" font-size="5.2" text-anchor="middle" fill="#555">10<tspan font-size='3.5' dy='-2'>4</tspan></text>
<line x1="385.67" y1="281.7" x2="385.67" y2="283.7" stroke="#333" stroke-width="0.8"/>
<text x="386.57" y="290.30" font-size="5.2" text-anchor="middle" fill="#555">10<tspan font-size='3.5' dy='-2'>5</tspan></text>
<clipPath id="c7"><path d="M424.50,282.70 L422.88,280.99 L430.39,280.81 L432.82,280.62 L435.17,280.05 L437.04,277.24 L438.92,271.60 L440.33,262.21 L441.27,252.81 L442.21,243.42 L442.89,234.59 L443.62,225.57 L444.56,216.18 L445.50,208.67 L446.44,202.09 L447.38,198.33 L448.32,197.39 L424.50,197.39 Z"/></clipPath>
<path d="M435.09,281.70 L435.09,280.99 L436.57,280.43 L438.45,277.24 L439.86,271.60 L441.27,262.21 L442.21,252.81 L443.15,243.42 L444.11,234.97 L444.86,225.57 L445.61,216.18 L446.36,208.67 L447.30,202.09 L448.24,198.33 L449.18,197.77 L450.19,197.77 L451.60,199.27 L453.01,203.03 L454.42,206.79 L455.83,209.60 L457.24,214.30 L458.65,219.94 L460.06,225.57 L461.47,232.15 L461.95,234.03 L463.35,243.42 L464.75,252.81 L466.16,260.33 L467.57,265.96 L468.98,271.60 L470.39,276.30 L471.80,279.12 L473.21,280.43 L474.54,280.99 L474.54,281.70 Z" fill="#d3d3d3" stroke="none"/>
<path d="M435.09,280.99 L436.57,280.43 L438.45,277.24 L439.86,271.60 L441.27,262.21 L442.21,252.81 L443.15,243.42 L444.11,234.97 L444.86,225.57 L445.61,216.18 L446.36,208.67 L447.30,202.09 L448.24,198.33 L449.18,197.77 L450.19,197.77 L451.60,199.27 L453.01,203.03 L454.42,206.79 L455.83,209.60 L457.24,214.30 L458.65,219.94 L460.06,225.57 L461.47,232.15 L461.95,234.03 L463.35,243.42 L464.75,252.81 L466.16,260.33 L467.57,265.96 L468.98,271.60 L470.39,276.30 L471.80,279.12 L473.21,280.43 L474.54,280.99" fill="none" stroke="#777" stroke-width="1"/>
<path d="M422.88,280.99 L430.39,280.81 L432.82,280.62 L435.17,280.05 L437.04,277.24 L438.92,271.60 L440.33,262.21 L441.27,252.81 L442.21,243.42 L442.89,234.59 L443.62,225.57 L444.56,216.18 L445.50,208.67 L446.44,202.09 L447.38,198.33 L448.32,197.39 L449.26,199.27 L450.19,202.09 L451.13,206.79 L452.07,212.42 L453.01,219.00 L453.95,225.57 L454.89,231.21 L455.47,234.59 L456.77,241.54 L458.65,248.12 L461.00,253.75 L463.81,258.45 L466.63,262.21 L468.51,265.03 L470.00,266.90 L471.33,268.03 L472.81,269.16 L474.15,270.10 L475.63,271.60 L476.97,272.16 L479.39,273.48 L483.15,275.36 L486.90,277.24 L490.66,279.12 L493.48,280.43 L498.18,280.81 L514.93,280.99" fill="none" stroke="#000" stroke-width="2.1" stroke-linejoin="round"/>
<line x1="424.5" y1="191.3" x2="516.0" y2="191.3" stroke="#1a1a1a" stroke-width="1.3"/>
<line x1="515.4" y1="191.3" x2="515.4" y2="281.7" stroke="#3a3a3a" stroke-width="1.2"/>
<line x1="424.0" y1="281.7" x2="516.0" y2="281.7" stroke="#222" stroke-width="1.2"/>
<line x1="424.5" y1="190.70000000000002" x2="424.5" y2="281.7" stroke="#555" stroke-width="1.1"/>
<line x1="422.5" y1="195.90" x2="424.5" y2="195.90" stroke="#333" stroke-width="0.8"/>
<text x="421.5" y="197.60" font-size="5.2" text-anchor="end" fill="#222">100</text>
<line x1="422.5" y1="213.06" x2="424.5" y2="213.06" stroke="#333" stroke-width="0.8"/>
<text x="421.5" y="214.76" font-size="5.2" text-anchor="end" fill="#222">80</text>
<line x1="422.5" y1="230.22" x2="424.5" y2="230.22" stroke="#333" stroke-width="0.8"/>
<text x="421.5" y="231.92" font-size="5.2" text-anchor="end" fill="#222">60</text>
<line x1="422.5" y1="247.38" x2="424.5" y2="247.38" stroke="#333" stroke-width="0.8"/>
<text x="421.5" y="249.08" font-size="5.2" text-anchor="end" fill="#222">40</text>
<line x1="422.5" y1="264.54" x2="424.5" y2="264.54" stroke="#333" stroke-width="0.8"/>
<text x="421.5" y="266.24" font-size="5.2" text-anchor="end" fill="#222">20</text>
<line x1="422.5" y1="281.70" x2="424.5" y2="281.70" stroke="#333" stroke-width="0.8"/>
<text x="421.5" y="283.40" font-size="5.2" text-anchor="end" fill="#222">0</text>
<line x1="423.5" y1="195.90" x2="424.5" y2="195.90" stroke="#666" stroke-width="0.5"/>
<line x1="423.5" y1="199.33" x2="424.5" y2="199.33" stroke="#666" stroke-width="0.5"/>
<line x1="423.5" y1="202.76" x2="424.5" y2="202.76" stroke="#666" stroke-width="0.5"/>
<line x1="423.5" y1="206.20" x2="424.5" y2="206.20" stroke="#666" stroke-width="0.5"/>
<line x1="423.5" y1="209.63" x2="424.5" y2="209.63" stroke="#666" stroke-width="0.5"/>
<line x1="423.5" y1="213.06" x2="424.5" y2="213.06" stroke="#666" stroke-width="0.5"/>
<line x1="423.5" y1="216.49" x2="424.5" y2="216.49" stroke="#666" stroke-width="0.5"/>
<line x1="423.5" y1="219.92" x2="424.5" y2="219.92" stroke="#666" stroke-width="0.5"/>
<line x1="423.5" y1="223.36" x2="424.5" y2="223.36" stroke="#666" stroke-width="0.5"/>
<line x1="423.5" y1="226.79" x2="424.5" y2="226.79" stroke="#666" stroke-width="0.5"/>
<line x1="423.5" y1="230.22" x2="424.5" y2="230.22" stroke="#666" stroke-width="0.5"/>
<line x1="423.5" y1="233.65" x2="424.5" y2="233.65" stroke="#666" stroke-width="0.5"/>
<line x1="423.5" y1="237.08" x2="424.5" y2="237.08" stroke="#666" stroke-width="0.5"/>
<line x1="423.5" y1="240.52" x2="424.5" y2="240.52" stroke="#666" stroke-width="0.5"/>
<line x1="423.5" y1="243.95" x2="424.5" y2="243.95" stroke="#666" stroke-width="0.5"/>
<line x1="423.5" y1="247.38" x2="424.5" y2="247.38" stroke="#666" stroke-width="0.5"/>
<line x1="423.5" y1="250.81" x2="424.5" y2="250.81" stroke="#666" stroke-width="0.5"/>
<line x1="423.5" y1="254.24" x2="424.5" y2="254.24" stroke="#666" stroke-width="0.5"/>
<line x1="423.5" y1="257.68" x2="424.5" y2="257.68" stroke="#666" stroke-width="0.5"/>
<line x1="423.5" y1="261.11" x2="424.5" y2="261.11" stroke="#666" stroke-width="0.5"/>
<line x1="423.5" y1="264.54" x2="424.5" y2="264.54" stroke="#666" stroke-width="0.5"/>
<line x1="423.5" y1="267.97" x2="424.5" y2="267.97" stroke="#666" stroke-width="0.5"/>
<line x1="423.5" y1="271.40" x2="424.5" y2="271.40" stroke="#666" stroke-width="0.5"/>
<line x1="423.5" y1="274.84" x2="424.5" y2="274.84" stroke="#666" stroke-width="0.5"/>
<line x1="423.5" y1="278.27" x2="424.5" y2="278.27" stroke="#666" stroke-width="0.5"/>
<line x1="429.95" y1="281.7" x2="429.95" y2="283.3" stroke="#555" stroke-width="0.7"/>
<line x1="432.65" y1="281.7" x2="432.65" y2="283.3" stroke="#555" stroke-width="0.7"/>
<line x1="435.35" y1="281.7" x2="435.35" y2="283.3" stroke="#555" stroke-width="0.7"/>
<line x1="438.05" y1="281.7" x2="438.05" y2="283.3" stroke="#555" stroke-width="0.7"/>
<line x1="440.75" y1="281.7" x2="440.75" y2="283.3" stroke="#555" stroke-width="0.7"/>
<line x1="443.45" y1="281.7" x2="443.45" y2="283.3" stroke="#555" stroke-width="0.7"/>
<line x1="446.15" y1="281.7" x2="446.15" y2="283.3" stroke="#555" stroke-width="0.7"/>
<line x1="448.85" y1="281.7" x2="448.85" y2="283.3" stroke="#555" stroke-width="0.7"/>
<line x1="451.55" y1="281.7" x2="451.55" y2="283.3" stroke="#555" stroke-width="0.7"/>
<line x1="454.25" y1="281.7" x2="454.25" y2="283.3" stroke="#555" stroke-width="0.7"/>
<line x1="456.95" y1="281.7" x2="456.95" y2="283.3" stroke="#555" stroke-width="0.7"/>
<line x1="459.65" y1="281.7" x2="459.65" y2="283.3" stroke="#555" stroke-width="0.7"/>
<line x1="462.35" y1="281.7" x2="462.35" y2="283.3" stroke="#555" stroke-width="0.7"/>
<line x1="470.66" y1="281.7" x2="470.66" y2="283.3" stroke="#555" stroke-width="0.7"/>
<line x1="474.54" y1="281.7" x2="474.54" y2="283.3" stroke="#555" stroke-width="0.7"/>
<line x1="477.29" y1="281.7" x2="477.29" y2="283.3" stroke="#555" stroke-width="0.7"/>
<line x1="479.42" y1="281.7" x2="479.42" y2="283.3" stroke="#555" stroke-width="0.7"/>
<line x1="481.16" y1="281.7" x2="481.16" y2="283.3" stroke="#555" stroke-width="0.7"/>
<line x1="482.63" y1="281.7" x2="482.63" y2="283.3" stroke="#555" stroke-width="0.7"/>
<line x1="483.91" y1="281.7" x2="483.91" y2="283.3" stroke="#555" stroke-width="0.7"/>
<line x1="485.03" y1="281.7" x2="485.03" y2="283.3" stroke="#555" stroke-width="0.7"/>
<line x1="492.06" y1="281.7" x2="492.06" y2="283.3" stroke="#555" stroke-width="0.7"/>
<line x1="495.58" y1="281.7" x2="495.58" y2="283.3" stroke="#555" stroke-width="0.7"/>
<line x1="498.08" y1="281.7" x2="498.08" y2="283.3" stroke="#555" stroke-width="0.7"/>
<line x1="500.02" y1="281.7" x2="500.02" y2="283.3" stroke="#555" stroke-width="0.7"/>
<line x1="501.60" y1="281.7" x2="501.60" y2="283.3" stroke="#555" stroke-width="0.7"/>
<line x1="502.94" y1="281.7" x2="502.94" y2="283.3" stroke="#555" stroke-width="0.7"/>
<line x1="504.10" y1="281.7" x2="504.10" y2="283.3" stroke="#555" stroke-width="0.7"/>
<line x1="505.12" y1="281.7" x2="505.12" y2="283.3" stroke="#555" stroke-width="0.7"/>
<line x1="512.06" y1="281.7" x2="512.06" y2="283.3" stroke="#555" stroke-width="0.7"/>
<line x1="437.50" y1="281.7" x2="437.50" y2="283.7" stroke="#333" stroke-width="0.8"/>
<text x="438.40" y="290.30" font-size="5.2" text-anchor="middle" fill="#555">0</text>
<line x1="464.04" y1="281.7" x2="464.04" y2="283.7" stroke="#333" stroke-width="0.8"/>
<text x="464.94" y="290.30" font-size="5.2" text-anchor="middle" fill="#555">10<tspan font-size='3.5' dy='-2'>3</tspan></text>
<line x1="486.04" y1="281.7" x2="486.04" y2="283.7" stroke="#333" stroke-width="0.8"/>
<text x="486.94" y="290.30" font-size="5.2" text-anchor="middle" fill="#555">10<tspan font-size='3.5' dy='-2'>4</tspan></text>
<line x1="506.04" y1="281.7" x2="506.04" y2="283.7" stroke="#333" stroke-width="0.8"/>
<text x="506.94" y="290.30" font-size="5.2" text-anchor="middle" fill="#555">10<tspan font-size='3.5' dy='-2'>5</tspan></text>
<line x1="74.8" y1="365" x2="74.8" y2="496.0" stroke="#000" stroke-width="2.8"/>
<line x1="70.3" y1="495.0" x2="270.5" y2="495.0" stroke="#000" stroke-width="2.6"/>
<line x1="69.3" y1="494.50" x2="74.8" y2="494.50" stroke="#000" stroke-width="2.4"/>
<text transform="translate(69.10,498.10) scale(0.9,1)" font-size="10" font-weight="bold" text-anchor="end">0</text>
<line x1="69.3" y1="462.45" x2="74.8" y2="462.45" stroke="#000" stroke-width="2.4"/>
<text transform="translate(69.10,466.05) scale(0.9,1)" font-size="10" font-weight="bold" text-anchor="end">500</text>
<line x1="69.3" y1="430.40" x2="74.8" y2="430.40" stroke="#000" stroke-width="2.4"/>
<text transform="translate(69.10,434.00) scale(0.9,1)" font-size="10" font-weight="bold" text-anchor="end">1000</text>
<line x1="69.3" y1="398.35" x2="74.8" y2="398.35" stroke="#000" stroke-width="2.4"/>
<text transform="translate(69.10,401.95) scale(0.9,1)" font-size="10" font-weight="bold" text-anchor="end">1500</text>
<line x1="69.3" y1="366.30" x2="74.8" y2="366.30" stroke="#000" stroke-width="2.4"/>
<text transform="translate(69.10,369.90) scale(0.9,1)" font-size="10" font-weight="bold" text-anchor="end">2000</text>
<line x1="99.1" y1="404.2" x2="99.1" y2="409.7" stroke="#000" stroke-width="2.2"/>
<line x1="89.8" y1="404.2" x2="108.4" y2="404.2" stroke="#000" stroke-width="2.2"/>
<rect x="82.7" y="411.09999999999997" width="32.80000000000001" height="83.4" fill="url(#pd)" stroke="#000" stroke-width="2.8"/>
<line x1="99.1" y1="494.5" x2="99.1" y2="499.5" stroke="#000" stroke-width="2.4"/>
<text transform="translate(99.40,507.6) scale(1.1,1)" font-size="9.1" font-weight="bold" text-anchor="middle">PBS</text>
<line x1="147.3" y1="474.0" x2="147.3" y2="475.1" stroke="#000" stroke-width="2.2"/>
<line x1="138.5" y1="474.0" x2="157.0" y2="474.0" stroke="#000" stroke-width="2.2"/>
<rect x="131.20000000000002" y="476.5" width="32.2" height="17.99999999999998" fill="url(#pc)" stroke="#000" stroke-width="2.8"/>
<line x1="147.3" y1="494.5" x2="147.3" y2="499.5" stroke="#000" stroke-width="2.4"/>
<text transform="translate(147.60,507.6) scale(1.1,1)" font-size="9.1" font-weight="bold" text-anchor="middle">RAPA</text>
<line x1="195.85" y1="381.8" x2="195.85" y2="394.3" stroke="#000" stroke-width="2.2"/>
<line x1="187.1" y1="381.8" x2="205.5" y2="381.8" stroke="#000" stroke-width="2.2"/>
<rect x="179.9" y="395.7" width="31.899999999999988" height="98.79999999999998" fill="url(#ph)" stroke="#000" stroke-width="2.8"/>
<line x1="195.85" y1="494.5" x2="195.85" y2="499.5" stroke="#000" stroke-width="2.4"/>
<text transform="translate(196.15,507.6) scale(1.1,1)" font-size="9.1" font-weight="bold" text-anchor="middle">IL-2</text>
<line x1="244.7" y1="477.2" x2="244.7" y2="480.6" stroke="#000" stroke-width="2.2"/>
<line x1="235.6" y1="477.2" x2="254" y2="477.2" stroke="#000" stroke-width="2.2"/>
<rect x="228.6" y="482.0" width="32.2" height="12.499999999999977" fill="url(#pv)" stroke="#000" stroke-width="2.8"/>
<line x1="244.7" y1="494.5" x2="244.7" y2="499.5" stroke="#000" stroke-width="2.4"/>
<text transform="translate(245.00,507.6) scale(1.1,1)" font-size="9.1" font-weight="bold" text-anchor="middle">RAPA+IL-2</text>
<line x1="320.1" y1="363.2" x2="320.1" y2="496.1" stroke="#000" stroke-width="2.8"/>
<line x1="315.6" y1="495.1" x2="516" y2="495.1" stroke="#000" stroke-width="2.6"/>
<line x1="314.6" y1="494.60" x2="320.1" y2="494.60" stroke="#000" stroke-width="2.4"/>
<text transform="translate(314.40,498.20) scale(0.9,1)" font-size="10" font-weight="bold" text-anchor="end">0</text>
<line x1="314.6" y1="462.00" x2="320.1" y2="462.00" stroke="#000" stroke-width="2.4"/>
<text transform="translate(314.40,465.60) scale(0.9,1)" font-size="10" font-weight="bold" text-anchor="end">20</text>
<line x1="314.6" y1="429.40" x2="320.1" y2="429.40" stroke="#000" stroke-width="2.4"/>
<text transform="translate(314.40,433.00) scale(0.9,1)" font-size="10" font-weight="bold" text-anchor="end">40</text>
<line x1="314.6" y1="396.80" x2="320.1" y2="396.80" stroke="#000" stroke-width="2.4"/>
<text transform="translate(314.40,400.40) scale(0.9,1)" font-size="10" font-weight="bold" text-anchor="end">60</text>
<line x1="314.6" y1="364.20" x2="320.1" y2="364.20" stroke="#000" stroke-width="2.4"/>
<text transform="translate(314.40,367.80) scale(0.9,1)" font-size="10" font-weight="bold" text-anchor="end">80</text>
<line x1="344.4" y1="377.6" x2="344.4" y2="382.8" stroke="#000" stroke-width="2.2"/>
<line x1="335.4" y1="377.6" x2="353.6" y2="377.6" stroke="#000" stroke-width="2.2"/>
<rect x="328.0" y="384.2" width="32.79999999999997" height="110.4" fill="url(#pd)" stroke="#000" stroke-width="2.8"/>
<line x1="344.4" y1="494.6" x2="344.4" y2="499.6" stroke="#000" stroke-width="2.4"/>
<text transform="translate(344.70,507.6) scale(1.1,1)" font-size="9.1" font-weight="bold" text-anchor="middle">PBS</text>
<line x1="393.3" y1="456.4" x2="393.3" y2="467.7" stroke="#000" stroke-width="2.2"/>
<line x1="384.6" y1="456.4" x2="402.5" y2="456.4" stroke="#000" stroke-width="2.2"/>
<rect x="377.2" y="469.09999999999997" width="32.2" height="25.500000000000036" fill="url(#pc)" stroke="#000" stroke-width="2.8"/>
<line x1="393.3" y1="494.6" x2="393.3" y2="499.6" stroke="#000" stroke-width="2.4"/>
<text transform="translate(393.60,507.6) scale(1.1,1)" font-size="9.1" font-weight="bold" text-anchor="middle">RAPA</text>
<line x1="442.7" y1="417.6" x2="442.7" y2="435.4" stroke="#000" stroke-width="2.2"/>
<line x1="433.2" y1="417.6" x2="451.7" y2="417.6" stroke="#000" stroke-width="2.2"/>
<rect x="426.59999999999997" y="436.79999999999995" width="32.2" height="57.80000000000005" fill="url(#ph)" stroke="#000" stroke-width="2.8"/>
<line x1="442.7" y1="494.6" x2="442.7" y2="499.6" stroke="#000" stroke-width="2.4"/>
<text transform="translate(443.00,507.6) scale(1.1,1)" font-size="9.1" font-weight="bold" text-anchor="middle">IL-2</text>
<line x1="491.5" y1="430.9" x2="491.5" y2="452.3" stroke="#000" stroke-width="2.2"/>
<line x1="482.5" y1="430.9" x2="500.9" y2="430.9" stroke="#000" stroke-width="2.2"/>
<rect x="475.2" y="453.7" width="32.59999999999998" height="40.90000000000001" fill="url(#pv)" stroke="#000" stroke-width="2.8"/>
<line x1="491.5" y1="494.6" x2="491.5" y2="499.6" stroke="#000" stroke-width="2.4"/>
<text transform="translate(491.80,507.6) scale(1.1,1)" font-size="9.1" font-weight="bold" text-anchor="middle">RAPA+IL-2</text>
<g transform="translate(38.2,459.3) rotate(-90)"><text x="0" y="0" font-size="10.4" font-weight="bold">INF-</text><text x="20.6" y="0" font-size="10.6">γ</text><text x="28.8" y="0" font-size="10.4" font-weight="bold">pg/ml</text></g>
<g transform="translate(292.2,462.5) rotate(-90)"><text x="0" y="0" font-size="10.4" font-weight="bold">TNF-</text><text x="26.3" y="0" font-size="12" font-weight="bold">α</text><text x="35.4" y="0" font-size="10.4" font-weight="bold">pg/ml</text></g>
<path d="M99.2,393 L99.2,337.8 L243.1,337.8 L243.1,353" fill="none" stroke="#000" stroke-width="2"/>
<path d="M195.3,374.4 L195.3,363.2 L243.1,363.2 L243.1,458.5" fill="none" stroke="#000" stroke-width="2"/>
<path d="M342.9,370.7 L342.9,359.4 L491,359.4 L491,413.8" fill="none" stroke="#000" stroke-width="2"/>
<text x="159.3" y="334.4" font-size="16.5" text-anchor="middle">*</text>
<text x="169.8" y="334.4" font-size="16.5" text-anchor="middle">*</text>
<text x="180.4" y="334.4" font-size="16.5" text-anchor="middle">*</text>
<text x="208.6" y="361.2" font-size="16.5" text-anchor="middle">*</text>
<text x="219.1" y="361.2" font-size="16.5" text-anchor="middle">*</text>
<text x="229.7" y="361.2" font-size="16.5" text-anchor="middle">*</text>
<text x="416.6" y="355.7" font-size="16.5" text-anchor="middle">*</text>
</svg></body></html>
